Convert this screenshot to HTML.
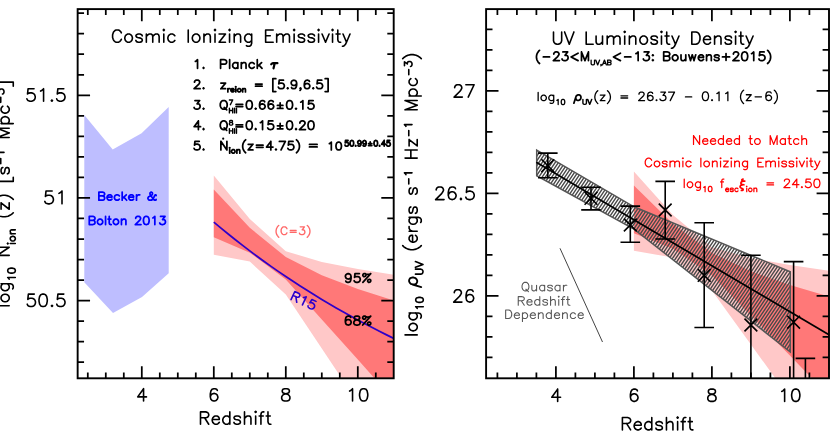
<!DOCTYPE html>
<html lang="en"><head><meta charset="utf-8"><title>Cosmic Ionizing Emissivity and UV Luminosity Density vs Redshift</title>
<style>
html,body{margin:0;padding:0;background:#fff;overflow:hidden}
body{width:830px;height:442px;font-family:"Liberation Sans",sans-serif}
svg{display:block}
.t text{font-family:"Liberation Sans",sans-serif;fill:#000;fill-opacity:0}
</style></head><body>
<svg width="830" height="442" viewBox="0 0 830 442">
<rect width="830" height="442" fill="#fff"/>
<clipPath id="cl"><rect x="77.65" y="9.1" width="316.04999999999995" height="369.2"/></clipPath>
<clipPath id="cr"><rect x="486.1" y="9.1" width="344.9" height="369.2"/></clipPath>
<polygon points="84.3,115.1 112.7,149.5 141.6,133.2 168.7,107.1 168.7,273.2 142.0,297.1 113.0,312.9 84.3,282.3" fill="#bebeff"/>
<polygon points="213.8,175.5 249.8,219.0 285.8,251.2 321.8,262.0 357.8,269.0 393.8,274.8 393.8,457.0 357.8,402.5 321.8,348.5 285.8,294.5 249.8,261.6 213.8,254.7" fill="#ffc8c8" clip-path="url(#cl)"/>
<polygon points="213.8,189.4 249.8,227.8 285.8,257.0 321.8,275.3 357.8,289.0 393.8,300.4 393.8,400.0 357.8,359.5 321.8,319.5 285.8,279.4 249.8,252.7 213.8,237.3" fill="#ff7878" clip-path="url(#cl)"/>
<polyline points="213.8,222.2 221.0,228.2 228.2,234.0 235.4,239.8 242.6,245.4 249.8,250.9 257.0,256.2 264.2,261.5 271.4,266.6 278.6,271.6 285.8,276.5 293.0,281.3 300.2,286.0 307.4,290.6 314.6,295.1 321.8,299.5 329.0,303.7 336.2,307.9 343.4,312.0 350.6,316.1 357.8,320.0 365.0,323.8 372.2,327.6 379.4,331.3 386.6,334.9 393.8,338.4" fill="none" stroke="#3000c8" stroke-width="1.75" clip-path="url(#cl)"/>
<polygon points="633.9,171.5 672.9,215.0 711.9,247.2 750.9,258.0 789.9,265.0 828.9,270.8 828.9,453.0 789.9,398.5 750.9,344.5 711.9,290.5 672.9,257.6 633.9,250.7" fill="#ffc8c8" clip-path="url(#cr)"/>
<polygon points="633.9,185.4 672.9,223.8 711.9,253.0 750.9,271.3 789.9,285.0 828.9,296.4 828.9,396.0 789.9,355.5 750.9,315.5 711.9,275.4 672.9,248.7 633.9,233.3" fill="#ff7878" clip-path="url(#cr)"/>
<clipPath id="ch"><polygon points="536.7,150.1 634.0,206.8 790.3,271.7 790.3,352.0 634.0,229.1 536.7,175.7"/></clipPath>
<path d="M285.48 360.0L433.87 140.0M288.73 360.0L437.12 140.0M291.98 360.0L440.37 140.0M295.23 360.0L443.62 140.0M298.48 360.0L446.87 140.0M301.73 360.0L450.12 140.0M304.98 360.0L453.37 140.0M308.23 360.0L456.62 140.0M311.48 360.0L459.87 140.0M314.73 360.0L463.12 140.0M317.98 360.0L466.37 140.0M321.23 360.0L469.62 140.0M324.48 360.0L472.87 140.0M327.73 360.0L476.12 140.0M330.98 360.0L479.37 140.0M334.23 360.0L482.62 140.0M337.48 360.0L485.87 140.0M340.73 360.0L489.12 140.0M343.98 360.0L492.37 140.0M347.23 360.0L495.62 140.0M350.48 360.0L498.87 140.0M353.73 360.0L502.12 140.0M356.98 360.0L505.37 140.0M360.23 360.0L508.62 140.0M363.48 360.0L511.87 140.0M366.73 360.0L515.12 140.0M369.98 360.0L518.37 140.0M373.23 360.0L521.62 140.0M376.48 360.0L524.87 140.0M379.73 360.0L528.12 140.0M382.98 360.0L531.37 140.0M386.23 360.0L534.62 140.0M389.48 360.0L537.87 140.0M392.73 360.0L541.12 140.0M395.98 360.0L544.37 140.0M399.23 360.0L547.62 140.0M402.48 360.0L550.87 140.0M405.73 360.0L554.12 140.0M408.98 360.0L557.37 140.0M412.23 360.0L560.62 140.0M415.48 360.0L563.87 140.0M418.73 360.0L567.12 140.0M421.98 360.0L570.37 140.0M425.23 360.0L573.62 140.0M428.48 360.0L576.87 140.0M431.73 360.0L580.12 140.0M434.98 360.0L583.37 140.0M438.23 360.0L586.62 140.0M441.48 360.0L589.87 140.0M444.73 360.0L593.12 140.0M447.98 360.0L596.37 140.0M451.23 360.0L599.62 140.0M454.48 360.0L602.87 140.0M457.73 360.0L606.12 140.0M460.98 360.0L609.37 140.0M464.23 360.0L612.62 140.0M467.48 360.0L615.87 140.0M470.73 360.0L619.12 140.0M473.98 360.0L622.37 140.0M477.23 360.0L625.62 140.0M480.48 360.0L628.87 140.0M483.73 360.0L632.12 140.0M486.98 360.0L635.37 140.0M490.23 360.0L638.62 140.0M493.48 360.0L641.87 140.0M496.73 360.0L645.12 140.0M499.98 360.0L648.37 140.0M503.23 360.0L651.62 140.0M506.48 360.0L654.87 140.0M509.73 360.0L658.12 140.0M512.98 360.0L661.37 140.0M516.23 360.0L664.62 140.0M519.48 360.0L667.87 140.0M522.73 360.0L671.12 140.0M525.98 360.0L674.37 140.0M529.23 360.0L677.62 140.0M532.48 360.0L680.87 140.0M535.73 360.0L684.12 140.0M538.98 360.0L687.37 140.0M542.23 360.0L690.62 140.0M545.48 360.0L693.87 140.0M548.73 360.0L697.12 140.0M551.98 360.0L700.37 140.0M555.23 360.0L703.62 140.0M558.48 360.0L706.87 140.0M561.73 360.0L710.12 140.0M564.98 360.0L713.37 140.0M568.23 360.0L716.62 140.0M571.48 360.0L719.87 140.0M574.73 360.0L723.12 140.0M577.98 360.0L726.37 140.0M581.23 360.0L729.62 140.0M584.48 360.0L732.87 140.0M587.73 360.0L736.12 140.0M590.98 360.0L739.37 140.0M594.23 360.0L742.62 140.0M597.48 360.0L745.87 140.0M600.73 360.0L749.12 140.0M603.98 360.0L752.37 140.0M607.23 360.0L755.62 140.0M610.48 360.0L758.87 140.0M613.73 360.0L762.12 140.0M616.98 360.0L765.37 140.0M620.23 360.0L768.62 140.0M623.48 360.0L771.87 140.0M626.73 360.0L775.12 140.0M629.98 360.0L778.37 140.0M633.23 360.0L781.62 140.0M636.48 360.0L784.87 140.0M639.73 360.0L788.12 140.0M642.98 360.0L791.37 140.0M646.23 360.0L794.62 140.0M649.48 360.0L797.87 140.0M652.73 360.0L801.12 140.0M655.98 360.0L804.37 140.0M659.23 360.0L807.62 140.0M662.48 360.0L810.87 140.0M665.73 360.0L814.12 140.0M668.98 360.0L817.37 140.0M672.23 360.0L820.62 140.0M675.48 360.0L823.87 140.0M678.73 360.0L827.12 140.0M681.98 360.0L830.37 140.0M685.23 360.0L833.62 140.0M688.48 360.0L836.87 140.0M691.73 360.0L840.12 140.0M694.98 360.0L843.37 140.0M698.23 360.0L846.62 140.0M701.48 360.0L849.87 140.0M704.73 360.0L853.12 140.0M707.98 360.0L856.37 140.0M711.23 360.0L859.62 140.0M714.48 360.0L862.87 140.0M717.73 360.0L866.12 140.0M720.98 360.0L869.37 140.0M724.23 360.0L872.62 140.0M727.48 360.0L875.87 140.0M730.73 360.0L879.12 140.0M733.98 360.0L882.37 140.0M737.23 360.0L885.62 140.0M740.48 360.0L888.87 140.0M743.73 360.0L892.12 140.0M746.98 360.0L895.37 140.0M750.23 360.0L898.62 140.0M753.48 360.0L901.87 140.0M756.73 360.0L905.12 140.0M759.98 360.0L908.37 140.0M763.23 360.0L911.62 140.0M766.48 360.0L914.87 140.0M769.73 360.0L918.12 140.0M772.98 360.0L921.37 140.0M776.23 360.0L924.62 140.0M779.48 360.0L927.87 140.0M782.73 360.0L931.12 140.0M785.98 360.0L934.37 140.0M789.23 360.0L937.62 140.0M792.48 360.0L940.87 140.0" stroke="#4a4a4a" stroke-width="1.4" fill="none" clip-path="url(#ch)"/>
<polygon points="536.7,150.1 634.0,206.8 790.3,271.7 790.3,352.0 634.0,229.1 536.7,175.7" fill="none" stroke="#555" stroke-width="1.5" stroke-linejoin="miter"/>
<line x1="536.3" y1="162.3" x2="829" y2="334.8" stroke="#000" stroke-width="1.7"/>
<line x1="560" y1="248.3" x2="602.5" y2="342" stroke="#444" stroke-width="1.0"/>
<path d="M547.8 153.1L547.8 177.7M538.0 153.1L557.6 153.1M538.0 177.7L557.6 177.7M541.4 159.3L554.2 172.1M541.4 172.1L554.2 159.3M591.0 187.3L591.0 209.9M581.2 187.3L600.8 187.3M581.2 209.9L600.8 209.9M584.6 191.9L597.4 204.7M584.6 204.7L597.4 191.9M630.3 206.1L630.3 242.3M620.5 206.1L640.1 206.1M620.5 242.3L640.1 242.3M623.9 218.6L636.7 231.4M623.9 231.4L636.7 218.6M665.2 181.4L665.2 239.0M655.4 181.4L675.0 181.4M655.4 239.0L675.0 239.0M658.8 203.6L671.6 216.4M658.8 216.4L671.6 203.6M704.2 222.7L704.2 327.5M694.4 222.7L714.0 222.7M694.4 327.5L714.0 327.5M697.8 269.0L710.6 281.8M697.8 281.8L710.6 269.0M750.9 255.3L750.9 378.3M741.1 255.3L760.7 255.3M744.5 318.6L757.3 331.4M744.5 331.4L757.3 318.6M793.6 261.6L793.6 378.3M783.8 261.6L803.4 261.6M787.2 315.8L800.0 328.6M787.2 328.6L800.0 315.8M805.4 358.4L805.4 378.3M795.6 358.4L815.2 358.4" stroke="#000" stroke-width="1.6" fill="none" clip-path="url(#cr)"/>
<path d="M87.80 378.30v-5.9M87.80 9.10v5.9M105.80 378.30v-5.9M105.80 9.10v5.9M123.80 378.30v-5.9M123.80 9.10v5.9M141.80 378.30v-12.1M141.80 9.10v12.1M159.80 378.30v-5.9M159.80 9.10v5.9M177.80 378.30v-5.9M177.80 9.10v5.9M195.80 378.30v-5.9M195.80 9.10v5.9M213.80 378.30v-12.1M213.80 9.10v12.1M231.80 378.30v-5.9M231.80 9.10v5.9M249.80 378.30v-5.9M249.80 9.10v5.9M267.80 378.30v-5.9M267.80 9.10v5.9M285.80 378.30v-12.1M285.80 9.10v12.1M303.80 378.30v-5.9M303.80 9.10v5.9M321.80 378.30v-5.9M321.80 9.10v5.9M339.80 378.30v-5.9M339.80 9.10v5.9M357.80 378.30v-12.1M357.80 9.10v12.1M375.80 378.30v-5.9M375.80 9.10v5.9M77.65 362.19h6.4M393.70 362.19h-6.4M77.65 341.66h6.4M393.70 341.66h-6.4M77.65 321.13h6.4M393.70 321.13h-6.4M77.65 300.60h12.4M393.70 300.60h-12.4M77.65 280.07h6.4M393.70 280.07h-6.4M77.65 259.54h6.4M393.70 259.54h-6.4M77.65 239.01h6.4M393.70 239.01h-6.4M77.65 218.48h6.4M393.70 218.48h-6.4M77.65 197.95h12.4M393.70 197.95h-12.4M77.65 177.42h6.4M393.70 177.42h-6.4M77.65 156.89h6.4M393.70 156.89h-6.4M77.65 136.36h6.4M393.70 136.36h-6.4M77.65 115.83h6.4M393.70 115.83h-6.4M77.65 95.30h12.4M393.70 95.30h-12.4M77.65 74.77h6.4M393.70 74.77h-6.4M77.65 54.24h6.4M393.70 54.24h-6.4M77.65 33.71h6.4M393.70 33.71h-6.4M77.65 13.18h6.4M393.70 13.18h-6.4" stroke="#000" stroke-width="1.75" fill="none"/>
<rect x="77.65" y="9.1" width="316.04999999999995" height="369.2" fill="none" stroke="#000" stroke-width="1.9"/>
<path d="M497.40 378.30v-5.9M497.40 9.10v5.9M516.90 378.30v-5.9M516.90 9.10v5.9M536.40 378.30v-5.9M536.40 9.10v5.9M555.90 378.30v-12.1M555.90 9.10v12.1M575.40 378.30v-5.9M575.40 9.10v5.9M594.90 378.30v-5.9M594.90 9.10v5.9M614.40 378.30v-5.9M614.40 9.10v5.9M633.90 378.30v-12.1M633.90 9.10v12.1M653.40 378.30v-5.9M653.40 9.10v5.9M672.90 378.30v-5.9M672.90 9.10v5.9M692.40 378.30v-5.9M692.40 9.10v5.9M711.90 378.30v-12.1M711.90 9.10v12.1M731.40 378.30v-5.9M731.40 9.10v5.9M750.90 378.30v-5.9M750.90 9.10v5.9M770.40 378.30v-5.9M770.40 9.10v5.9M789.90 378.30v-12.1M789.90 9.10v12.1M809.40 378.30v-5.9M809.40 9.10v5.9M486.10 357.30h6.4M829.00 357.30h-6.4M486.10 336.80h6.4M829.00 336.80h-6.4M486.10 316.30h6.4M829.00 316.30h-6.4M486.10 295.80h12.4M829.00 295.80h-12.4M486.10 275.30h6.4M829.00 275.30h-6.4M486.10 254.80h6.4M829.00 254.80h-6.4M486.10 234.30h6.4M829.00 234.30h-6.4M486.10 213.80h6.4M829.00 213.80h-6.4M486.10 193.30h12.4M829.00 193.30h-12.4M486.10 172.80h6.4M829.00 172.80h-6.4M486.10 152.30h6.4M829.00 152.30h-6.4M486.10 131.80h6.4M829.00 131.80h-6.4M486.10 111.30h6.4M829.00 111.30h-6.4M486.10 90.80h12.4M829.00 90.80h-12.4M486.10 70.30h6.4M829.00 70.30h-6.4M486.10 49.80h6.4M829.00 49.80h-6.4M486.10 29.30h6.4M829.00 29.30h-6.4" stroke="#000" stroke-width="1.75" fill="none"/>
<rect x="486.1" y="9.1" width="342.9" height="369.2" fill="none" stroke="#000" stroke-width="1.9"/>
<path d="M121.33 32.89L120.75 31.73L119.58 30.56L118.42 29.98L116.09 29.98L114.93 30.56L113.76 31.73L113.18 32.89L112.60 34.64L112.60 37.55L113.18 39.29L113.76 40.45L114.93 41.62L116.09 42.20L118.42 42.20L119.58 41.62L120.75 40.45L121.33 39.29M127.73 34.05L126.56 34.64L125.40 35.80L124.82 37.55L124.82 38.71L125.40 40.45L126.56 41.62L127.73 42.20L129.47 42.20L130.64 41.62L131.80 40.45L132.38 38.71L132.38 37.55L131.80 35.80L130.64 34.64L129.47 34.05L127.73 34.05M142.28 35.80L141.69 34.64L139.95 34.05L138.20 34.05L136.46 34.64L135.87 35.80L136.46 36.96L137.62 37.55L140.53 38.13L141.69 38.71L142.28 39.87L142.28 40.45L141.69 41.62L139.95 42.20L138.20 42.20L136.46 41.62L135.87 40.45M146.35 34.05L146.35 42.20M146.35 36.38L148.09 34.64L149.26 34.05L151.00 34.05L152.17 34.64L152.75 36.38L152.75 42.20M152.75 36.38L154.49 34.64L155.66 34.05L157.40 34.05L158.57 34.64L159.15 36.38L159.15 42.20M163.22 29.98L163.80 30.56L164.39 29.98L163.80 29.40L163.22 29.98M163.80 34.05L163.80 42.20M174.86 35.80L173.70 34.64L172.53 34.05L170.79 34.05L169.62 34.64L168.46 35.80L167.88 37.55L167.88 38.71L168.46 40.45L169.62 41.62L170.79 42.20L172.53 42.20L173.70 41.62L174.86 40.45M188.24 29.98L188.24 42.20M195.22 34.05L194.06 34.64L192.90 35.80L192.32 37.55L192.32 38.71L192.90 40.45L194.06 41.62L195.22 42.20L196.97 42.20L198.13 41.62L199.30 40.45L199.88 38.71L199.88 37.55L199.30 35.80L198.13 34.64L196.97 34.05L195.22 34.05M203.95 34.05L203.95 42.20M203.95 36.38L205.70 34.64L206.86 34.05L208.61 34.05L209.77 34.64L210.35 36.38L210.35 42.20M214.43 29.98L215.01 30.56L215.59 29.98L215.01 29.40L214.43 29.98M215.01 34.05L215.01 42.20M225.48 34.05L219.08 42.20M219.08 34.05L225.48 34.05M219.08 42.20L225.48 42.20M228.97 29.98L229.55 30.56L230.14 29.98L229.55 29.40L228.97 29.98M229.55 34.05L229.55 42.20M234.21 34.05L234.21 42.20M234.21 36.38L235.95 34.64L237.12 34.05L238.86 34.05L240.03 34.64L240.61 36.38L240.61 42.20M251.67 34.05L251.67 43.36L251.08 45.11L250.50 45.69L249.34 46.27L247.59 46.27L246.43 45.69M251.67 35.80L250.50 34.64L249.34 34.05L247.59 34.05L246.43 34.64L245.26 35.80L244.68 37.55L244.68 38.71L245.26 40.45L246.43 41.62L247.59 42.20L249.34 42.20L250.50 41.62L251.67 40.45M265.63 29.98L265.63 42.20M265.63 29.98L273.19 29.98M265.63 35.80L270.28 35.80M265.63 42.20L273.19 42.20M276.69 34.05L276.69 42.20M276.69 36.38L278.43 34.64L279.59 34.05L281.34 34.05L282.50 34.64L283.09 36.38L283.09 42.20M283.09 36.38L284.83 34.64L286.00 34.05L287.74 34.05L288.90 34.64L289.49 36.38L289.49 42.20M293.56 29.98L294.14 30.56L294.72 29.98L294.14 29.40L293.56 29.98M294.14 34.05L294.14 42.20M304.61 35.80L304.03 34.64L302.29 34.05L300.54 34.05L298.80 34.64L298.21 35.80L298.80 36.96L299.96 37.55L302.87 38.13L304.03 38.71L304.61 39.87L304.61 40.45L304.03 41.62L302.29 42.20L300.54 42.20L298.80 41.62L298.21 40.45M314.51 35.80L313.92 34.64L312.18 34.05L310.43 34.05L308.69 34.64L308.11 35.80L308.69 36.96L309.85 37.55L312.76 38.13L313.92 38.71L314.51 39.87L314.51 40.45L313.92 41.62L312.18 42.20L310.43 42.20L308.69 41.62L308.11 40.45M318.00 29.98L318.58 30.56L319.16 29.98L318.58 29.40L318.00 29.98M318.58 34.05L318.58 42.20M322.07 34.05L325.56 42.20M329.05 34.05L325.56 42.20M331.96 29.98L332.54 30.56L333.13 29.98L332.54 29.40L331.96 29.98M332.54 34.05L332.54 42.20M337.78 29.98L337.78 39.87L338.36 41.62L339.53 42.20L340.69 42.20M336.04 34.05L340.11 34.05M343.02 34.05L346.51 42.20M350.00 34.05L346.51 42.20L345.35 44.53L344.18 45.69L343.02 46.27L342.44 46.27" fill="none" stroke="#000" stroke-width="1.6" stroke-linecap="round" stroke-linejoin="round"/>
<path d="M195.38 61.38L196.24 60.97L197.53 59.75L197.53 68.33M203.55 67.51L203.12 67.92L203.55 68.33L203.98 67.92L203.55 67.51" fill="none" stroke="#000" stroke-width="1.75" stroke-linecap="round" stroke-linejoin="round"/>
<path d="M194.52 82.19L194.52 81.78L194.95 80.96L195.38 80.55L196.24 80.15L197.96 80.15L198.82 80.55L199.25 80.96L199.68 81.78L199.68 82.60L199.25 83.41L198.39 84.64L194.09 88.72L200.11 88.72M203.55 87.91L203.12 88.32L203.55 88.72L203.98 88.32L203.55 87.91" fill="none" stroke="#000" stroke-width="1.75" stroke-linecap="round" stroke-linejoin="round"/>
<path d="M194.95 100.55L199.68 100.55L197.10 103.81L198.39 103.81L199.25 104.22L199.68 104.63L200.11 105.86L200.11 106.67L199.68 107.90L198.82 108.72L197.53 109.12L196.24 109.12L194.95 108.72L194.52 108.31L194.09 107.49M203.55 108.31L203.12 108.72L203.55 109.12L203.98 108.72L203.55 108.31" fill="none" stroke="#000" stroke-width="1.75" stroke-linecap="round" stroke-linejoin="round"/>
<path d="M198.39 120.95L194.09 126.67L200.54 126.67M198.39 120.95L198.39 129.53M203.55 128.71L203.12 129.12L203.55 129.53L203.98 129.12L203.55 128.71" fill="none" stroke="#000" stroke-width="1.75" stroke-linecap="round" stroke-linejoin="round"/>
<path d="M199.25 141.35L194.95 141.35L194.52 145.02L194.95 144.61L196.24 144.21L197.53 144.21L198.82 144.61L199.68 145.43L200.11 146.66L200.11 147.47L199.68 148.70L198.82 149.52L197.53 149.93L196.24 149.93L194.95 149.52L194.52 149.11L194.09 148.29M203.55 149.11L203.12 149.52L203.55 149.93L203.98 149.52L203.55 149.11" fill="none" stroke="#000" stroke-width="1.75" stroke-linecap="round" stroke-linejoin="round"/>
<path d="M220.57 59.71L220.57 68.33M220.57 59.71L224.46 59.71L225.75 60.12L226.19 60.53L226.62 61.35L226.62 62.58L226.19 63.40L225.75 63.81L224.46 64.22L220.57 64.22M229.64 59.71L229.64 68.33M237.84 62.58L237.84 68.33M237.84 63.81L236.98 62.99L236.11 62.58L234.82 62.58L233.96 62.99L233.09 63.81L232.66 65.04L232.66 65.86L233.09 67.09L233.96 67.91L234.82 68.33L236.11 68.33L236.98 67.91L237.84 67.09M241.29 62.58L241.29 68.33M241.29 64.22L242.59 62.99L243.45 62.58L244.75 62.58L245.61 62.99L246.04 64.22L246.04 68.33M254.24 63.81L253.38 62.99L252.52 62.58L251.22 62.58L250.36 62.99L249.50 63.81L249.06 65.04L249.06 65.86L249.50 67.09L250.36 67.91L251.22 68.33L252.52 68.33L253.38 67.91L254.24 67.09M257.27 59.71L257.27 68.33M261.58 62.58L257.27 66.68M258.99 65.04L262.01 68.33" fill="none" stroke="#000" stroke-width="1.75" stroke-linecap="round" stroke-linejoin="round"/>
<path d="M274.71 63.16L273.54 68.33M271.21 64.27L271.99 63.53L273.15 63.16L277.43 63.16" fill="none" stroke="#000" stroke-width="2.2" stroke-linecap="round" stroke-linejoin="round"/>
<path d="M225.55 83.07L220.88 88.72M220.88 83.07L225.55 83.07M220.88 88.72L225.55 88.72M227.85 88.56L227.85 91.96M227.85 90.02L228.10 89.29L228.61 88.81L229.12 88.56L229.89 88.56M230.91 90.02L233.97 90.02L233.97 89.53L233.72 89.05L233.46 88.81L232.95 88.56L232.19 88.56L231.68 88.81L231.17 89.29L230.91 90.02L230.91 90.50L231.17 91.23L231.68 91.71L232.19 91.96L232.95 91.96L233.46 91.71L233.97 91.23M235.50 86.87L235.76 87.11L236.01 86.87L235.76 86.62L235.50 86.87M235.76 88.56L235.76 91.96M238.82 88.56L238.31 88.81L237.80 89.29L237.55 90.02L237.55 90.50L237.80 91.23L238.31 91.71L238.82 91.96L239.59 91.96L240.10 91.71L240.61 91.23L240.86 90.50L240.86 90.02L240.61 89.29L240.10 88.81L239.59 88.56L238.82 88.56M242.65 88.56L242.65 91.96M242.65 89.53L243.41 88.81L243.92 88.56L244.69 88.56L245.20 88.81L245.45 89.53L245.45 91.96M255.52 84.05L262.10 84.05M255.52 86.13L262.10 86.13M272.84 78.63L272.84 91.55M272.84 78.63L275.82 78.63M272.84 91.55L275.82 91.55M283.47 80.24L279.22 80.24L278.80 83.88L279.22 83.47L280.50 83.07L281.77 83.07L283.05 83.47L283.90 84.28L284.32 85.49L284.32 86.30L283.90 87.51L283.05 88.32L281.77 88.72L280.50 88.72L279.22 88.32L278.80 87.92L278.37 87.11M287.73 87.92L287.30 88.32L287.73 88.72L288.15 88.32L287.73 87.92M296.66 83.07L296.23 84.28L295.38 85.09L294.10 85.49L293.68 85.49L292.40 85.09L291.55 84.28L291.13 83.07L291.13 82.67L291.55 81.45L292.40 80.65L293.68 80.24L294.10 80.24L295.38 80.65L296.23 81.45L296.66 83.07L296.66 85.09L296.23 87.11L295.38 88.32L294.10 88.72L293.25 88.72L291.98 88.32L291.55 87.51M300.91 88.32L300.48 88.72L300.06 88.32L300.48 87.92L300.91 88.32L300.91 89.13L300.48 89.94L300.06 90.34M309.41 81.45L308.99 80.65L307.71 80.24L306.86 80.24L305.59 80.65L304.74 81.86L304.31 83.88L304.31 85.90L304.74 87.51L305.59 88.32L306.86 88.72L307.29 88.72L308.56 88.32L309.41 87.51L309.84 86.30L309.84 85.90L309.41 84.69L308.56 83.88L307.29 83.47L306.86 83.47L305.59 83.88L304.74 84.69L304.31 85.90M313.24 87.92L312.82 88.32L313.24 88.72L313.67 88.32L313.24 87.92M321.75 80.24L317.49 80.24L317.07 83.88L317.49 83.47L318.77 83.07L320.05 83.07L321.32 83.47L322.17 84.28L322.60 85.49L322.60 86.30L322.17 87.51L321.32 88.32L320.05 88.72L318.77 88.72L317.49 88.32L317.07 87.92L316.64 87.11M328.12 78.63L328.12 91.55M325.15 78.63L328.12 78.63M325.15 91.55L328.12 91.55" fill="none" stroke="#000" stroke-width="1.75" stroke-linecap="round" stroke-linejoin="round"/>
<path d="M222.86 100.55L222.00 100.95L221.14 101.77L220.71 102.59L220.28 103.81L220.28 105.86L220.71 107.08L221.14 107.90L222.00 108.72L222.86 109.12L224.58 109.12L225.44 108.72L226.30 107.90L226.72 107.08L227.16 105.86L227.16 103.81L226.72 102.59L226.30 101.77L225.44 100.95L224.58 100.55L222.86 100.55M224.15 107.49L226.72 109.94" fill="none" stroke="#000" stroke-width="1.75" stroke-linecap="round" stroke-linejoin="round"/>
<path d="M232.71 99.98L230.35 104.70M229.40 99.98L232.71 99.98" fill="none" stroke="#000" stroke-width="1.4" stroke-linecap="round" stroke-linejoin="round"/>
<path d="M229.40 108.18L229.40 112.90M232.71 108.18L232.71 112.90M229.40 110.43L232.71 110.43M234.60 108.18L234.60 112.90M236.49 108.18L236.49 112.90" fill="none" stroke="#000" stroke-width="1.4" stroke-linecap="round" stroke-linejoin="round"/>
<path d="M236.07 104.41L242.71 104.41M236.07 106.51L242.71 106.51M248.83 100.57L247.54 100.98L246.69 102.20L246.26 104.24L246.26 105.46L246.69 107.50L247.54 108.72L248.83 109.12L249.69 109.12L250.98 108.72L251.83 107.50L252.26 105.46L252.26 104.24L251.83 102.20L250.98 100.98L249.69 100.57L248.83 100.57M255.69 108.31L255.26 108.72L255.69 109.12L256.12 108.72L255.69 108.31M264.70 101.79L264.27 100.98L262.98 100.57L262.13 100.57L260.84 100.98L259.98 102.20L259.55 104.24L259.55 106.27L259.98 107.90L260.84 108.72L262.13 109.12L262.56 109.12L263.84 108.72L264.70 107.90L265.13 106.68L265.13 106.27L264.70 105.05L263.84 104.24L262.56 103.83L262.13 103.83L260.84 104.24L259.98 105.05L259.55 106.27M273.28 101.79L272.85 100.98L271.56 100.57L270.71 100.57L269.42 100.98L268.56 102.20L268.13 104.24L268.13 106.27L268.56 107.90L269.42 108.72L270.71 109.12L271.13 109.12L272.42 108.72L273.28 107.90L273.71 106.68L273.71 106.27L273.28 105.05L272.42 104.24L271.13 103.83L270.71 103.83L269.42 104.24L268.56 105.05L268.13 106.27M280.14 102.85L280.14 108.39M277.40 105.46L282.89 105.46M277.40 108.39L282.89 108.39M289.15 100.57L287.86 100.98L287.00 102.20L286.57 104.24L286.57 105.46L287.00 107.50L287.86 108.72L289.15 109.12L290.01 109.12L291.29 108.72L292.15 107.50L292.58 105.46L292.58 104.24L292.15 102.20L291.29 100.98L290.01 100.57L289.15 100.57M296.01 108.31L295.58 108.72L296.01 109.12L296.44 108.72L296.01 108.31M300.73 102.20L301.59 101.79L302.87 100.57L302.87 109.12M313.17 100.57L308.88 100.57L308.45 104.24L308.88 103.83L310.16 103.42L311.45 103.42L312.74 103.83L313.60 104.64L314.02 105.87L314.02 106.68L313.60 107.90L312.74 108.72L311.45 109.12L310.16 109.12L308.88 108.72L308.45 108.31L308.02 107.50" fill="none" stroke="#000" stroke-width="1.75" stroke-linecap="round" stroke-linejoin="round"/>
<path d="M222.86 120.95L222.00 121.36L221.14 122.17L220.71 122.99L220.28 124.21L220.28 126.26L220.71 127.48L221.14 128.30L222.00 129.12L222.86 129.53L224.58 129.53L225.44 129.12L226.30 128.30L226.72 127.48L227.16 126.26L227.16 124.21L226.72 122.99L226.30 122.17L225.44 121.36L224.58 120.95L222.86 120.95M224.15 127.89L226.72 130.34" fill="none" stroke="#000" stroke-width="1.75" stroke-linecap="round" stroke-linejoin="round"/>
<path d="M230.58 120.38L229.87 120.61L229.64 121.06L229.64 121.51L229.87 121.95L230.35 122.18L231.29 122.40L232.00 122.63L232.47 123.08L232.71 123.53L232.71 124.20L232.47 124.65L232.24 124.88L231.53 125.10L230.58 125.10L229.87 124.88L229.64 124.65L229.40 124.20L229.40 123.53L229.64 123.08L230.11 122.63L230.82 122.40L231.76 122.18L232.24 121.95L232.47 121.51L232.47 121.06L232.24 120.61L231.53 120.38L230.58 120.38" fill="none" stroke="#000" stroke-width="1.4" stroke-linecap="round" stroke-linejoin="round"/>
<path d="M229.40 128.58L229.40 133.30M232.71 128.58L232.71 133.30M229.40 130.83L232.71 130.83M234.60 128.58L234.60 133.30M236.49 128.58L236.49 133.30" fill="none" stroke="#000" stroke-width="1.4" stroke-linecap="round" stroke-linejoin="round"/>
<path d="M236.07 124.81L242.71 124.81M236.07 126.91L242.71 126.91M248.83 120.97L247.54 121.38L246.69 122.60L246.26 124.64L246.26 125.86L246.69 127.90L247.54 129.12L248.83 129.53L249.69 129.53L250.98 129.12L251.83 127.90L252.26 125.86L252.26 124.64L251.83 122.60L250.98 121.38L249.69 120.97L248.83 120.97M255.69 128.71L255.26 129.12L255.69 129.53L256.12 129.12L255.69 128.71M260.41 122.60L261.27 122.19L262.56 120.97L262.56 129.53M272.85 120.97L268.56 120.97L268.13 124.64L268.56 124.23L269.85 123.82L271.13 123.82L272.42 124.23L273.28 125.04L273.71 126.27L273.71 127.08L273.28 128.30L272.42 129.12L271.13 129.53L269.85 129.53L268.56 129.12L268.13 128.71L267.70 127.90M280.14 123.25L280.14 128.79M277.40 125.86L282.89 125.86M277.40 128.79L282.89 128.79M289.15 120.97L287.86 121.38L287.00 122.60L286.57 124.64L286.57 125.86L287.00 127.90L287.86 129.12L289.15 129.53L290.01 129.53L291.29 129.12L292.15 127.90L292.58 125.86L292.58 124.64L292.15 122.60L291.29 121.38L290.01 120.97L289.15 120.97M296.01 128.71L295.58 129.12L296.01 129.53L296.44 129.12L296.01 128.71M299.87 123.01L299.87 122.60L300.30 121.78L300.73 121.38L301.59 120.97L303.30 120.97L304.16 121.38L304.59 121.78L305.02 122.60L305.02 123.41L304.59 124.23L303.73 125.45L299.44 129.53L305.45 129.53M310.59 120.97L309.31 121.38L308.45 122.60L308.02 124.64L308.02 125.86L308.45 127.90L309.31 129.12L310.59 129.53L311.45 129.53L312.74 129.12L313.60 127.90L314.02 125.86L314.02 124.64L313.60 122.60L312.74 121.38L311.45 120.97L310.59 120.97" fill="none" stroke="#000" stroke-width="1.75" stroke-linecap="round" stroke-linejoin="round"/>
<path d="M220.88 141.35L220.88 149.93M220.88 141.35L226.90 149.93M226.90 141.35L226.90 149.93M229.41 147.87L229.68 148.13L229.95 147.87L229.68 147.62L229.41 147.87M229.68 149.65L229.68 153.19M232.88 149.65L232.35 149.90L231.81 150.41L231.55 151.17L231.55 151.67L231.81 152.43L232.35 152.94L232.88 153.19L233.68 153.19L234.21 152.94L234.75 152.43L235.01 151.67L235.01 151.17L234.75 150.41L234.21 149.90L233.68 149.65L232.88 149.65M236.88 149.65L236.88 153.19M236.88 150.66L237.68 149.90L238.21 149.65L239.01 149.65L239.55 149.90L239.81 150.66L239.81 153.19" fill="none" stroke="#000" stroke-width="1.75" stroke-linecap="round" stroke-linejoin="round"/>
<path d="M245.66 139.79L244.81 140.60L243.96 141.82L243.10 143.44L242.68 145.47L242.68 147.09L243.10 149.11L243.96 150.74L244.81 151.95L245.66 152.76M252.92 144.25L248.22 149.93M248.22 144.25L252.92 144.25M248.22 149.93L252.92 149.93M256.44 145.23L263.05 145.23M256.44 147.32L263.05 147.32M270.84 141.41L266.57 147.09L272.97 147.09M270.84 141.41L270.84 149.93M275.96 149.11L275.53 149.52L275.96 149.93L276.38 149.52L275.96 149.11M285.34 141.41L281.08 149.93M279.37 141.41L285.34 141.41M293.02 141.41L288.76 141.41L288.33 145.06L288.76 144.66L290.04 144.25L291.32 144.25L292.60 144.66L293.45 145.47L293.88 146.68L293.88 147.49L293.45 148.71L292.60 149.52L291.32 149.93L290.04 149.93L288.76 149.52L288.33 149.11L287.90 148.30M296.44 139.79L297.29 140.60L298.14 141.82L299.00 143.44L299.43 145.47L299.43 147.09L299.00 149.11L298.14 150.74L297.29 151.95L296.44 152.76" fill="none" stroke="#000" stroke-width="1.75" stroke-linecap="round" stroke-linejoin="round"/>
<path d="M309.48 144.49L317.12 144.49M309.48 146.91L317.12 146.91" fill="none" stroke="#000" stroke-width="1.75" stroke-linecap="round" stroke-linejoin="round"/>
<path d="M329.38 143.65L330.15 143.28L331.32 142.17L331.32 149.93M338.32 142.17L337.15 142.54L336.37 143.65L335.98 145.49L335.98 146.60L336.37 148.45L337.15 149.56L338.32 149.93L339.09 149.93L340.26 149.56L341.04 148.45L341.43 146.60L341.43 145.49L341.04 143.65L340.26 142.54L339.09 142.17L338.32 142.17" fill="none" stroke="#000" stroke-width="1.75" stroke-linecap="round" stroke-linejoin="round"/>
<path d="M348.05 140.49L345.51 140.49L345.25 142.89L345.51 142.63L346.27 142.36L347.04 142.36L347.80 142.63L348.31 143.16L348.56 143.96L348.56 144.50L348.31 145.30L347.80 145.83L347.04 146.10L346.27 146.10L345.51 145.83L345.25 145.57L345.00 145.03M351.62 140.49L350.85 140.76L350.34 141.56L350.09 142.89L350.09 143.70L350.34 145.03L350.85 145.83L351.62 146.10L352.13 146.10L352.89 145.83L353.40 145.03L353.65 143.70L353.65 142.89L353.40 141.56L352.89 140.76L352.13 140.49L351.62 140.49M355.69 145.57L355.43 145.83L355.69 146.10L355.94 145.83L355.69 145.57M361.03 142.36L360.78 143.16L360.27 143.70L359.51 143.96L359.25 143.96L358.49 143.70L357.98 143.16L357.72 142.36L357.72 142.09L357.98 141.29L358.49 140.76L359.25 140.49L359.51 140.49L360.27 140.76L360.78 141.29L361.03 142.36L361.03 143.70L360.78 145.03L360.27 145.83L359.51 146.10L359.00 146.10L358.23 145.83L357.98 145.30M366.12 142.36L365.87 143.16L365.36 143.70L364.60 143.96L364.34 143.96L363.58 143.70L363.07 143.16L362.81 142.36L362.81 142.09L363.07 141.29L363.58 140.76L364.34 140.49L364.60 140.49L365.36 140.76L365.87 141.29L366.12 142.36L366.12 143.70L365.87 145.03L365.36 145.83L364.60 146.10L364.09 146.10L363.32 145.83L363.07 145.30M370.19 141.98L370.19 145.62M368.57 143.70L371.82 143.70M368.57 145.62L371.82 145.62M375.54 140.49L374.78 140.76L374.27 141.56L374.01 142.89L374.01 143.70L374.27 145.03L374.78 145.83L375.54 146.10L376.05 146.10L376.81 145.83L377.32 145.03L377.58 143.70L377.58 142.89L377.32 141.56L376.81 140.76L376.05 140.49L375.54 140.49M379.61 145.57L379.36 145.83L379.61 146.10L379.87 145.83L379.61 145.57M384.19 140.49L381.65 144.23L385.46 144.23M384.19 140.49L384.19 146.10M389.79 140.49L387.25 140.49L386.99 142.89L387.25 142.63L388.01 142.36L388.77 142.36L389.54 142.63L390.05 143.16L390.30 143.96L390.30 144.50L390.05 145.30L389.54 145.83L388.77 146.10L388.01 146.10L387.25 145.83L386.99 145.57L386.74 145.03" fill="none" stroke="#000" stroke-width="1.8" stroke-linecap="round" stroke-linejoin="round"/>
<circle cx="223.2" cy="138.7" r="1.1" fill="#000"/>
<path d="M98.88 192.07L98.88 200.22M98.88 192.07L102.56 192.07L103.78 192.46L104.19 192.84L104.60 193.62L104.60 194.40L104.19 195.17L103.78 195.56L102.56 195.95M98.88 195.95L102.56 195.95L103.78 196.34L104.19 196.73L104.60 197.51L104.60 198.67L104.19 199.45L103.78 199.84L102.56 200.22L98.88 200.22M107.05 197.12L111.96 197.12L111.96 196.34L111.55 195.56L111.14 195.17L110.33 194.79L109.10 194.79L108.28 195.17L107.46 195.95L107.05 197.12L107.05 197.89L107.46 199.06L108.28 199.84L109.10 200.22L110.33 200.22L111.14 199.84L111.96 199.06M119.32 195.95L118.50 195.17L117.69 194.79L116.46 194.79L115.64 195.17L114.82 195.95L114.41 197.12L114.41 197.89L114.82 199.06L115.64 199.84L116.46 200.22L117.69 200.22L118.50 199.84L119.32 199.06M122.18 192.07L122.18 200.22M126.27 194.79L122.18 198.67M123.82 197.12L126.68 200.22M128.73 197.12L133.63 197.12L133.63 196.34L133.22 195.56L132.82 195.17L132.00 194.79L130.77 194.79L129.95 195.17L129.14 195.95L128.73 197.12L128.73 197.89L129.14 199.06L129.95 199.84L130.77 200.22L132.00 200.22L132.82 199.84L133.63 199.06M136.50 194.79L136.50 200.22M136.50 197.12L136.91 195.95L137.72 195.17L138.54 194.79L139.77 194.79M156.12 195.56L156.12 195.17L155.72 194.79L155.31 194.79L154.90 195.17L154.49 195.95L153.67 197.89L152.85 199.06L152.04 199.84L151.22 200.22L149.58 200.22L148.76 199.84L148.36 199.45L147.95 198.67L147.95 197.89L148.36 197.12L148.76 196.73L151.63 195.17L152.04 194.79L152.44 194.01L152.44 193.23L152.04 192.46L151.22 192.07L150.40 192.46L149.99 193.23L149.99 194.01L150.40 195.17L151.22 196.34L153.26 199.06L154.08 199.84L154.90 200.22L155.72 200.22L156.12 199.84L156.12 199.45" fill="none" stroke="#0000ff" stroke-width="1.75" stroke-linecap="round" stroke-linejoin="round"/>
<path d="M89.28 216.40L89.28 224.53M89.28 216.40L92.94 216.40L94.16 216.79L94.57 217.17L94.98 217.95L94.98 218.72L94.57 219.50L94.16 219.88L92.94 220.27M89.28 220.27L92.94 220.27L94.16 220.66L94.57 221.04L94.98 221.82L94.98 222.98L94.57 223.75L94.16 224.14L92.94 224.53L89.28 224.53M99.46 219.11L98.64 219.50L97.83 220.27L97.42 221.43L97.42 222.20L97.83 223.36L98.64 224.14L99.46 224.53L100.68 224.53L101.49 224.14L102.31 223.36L102.71 222.20L102.71 221.43L102.31 220.27L101.49 219.50L100.68 219.11L99.46 219.11M105.56 216.40L105.56 224.53M109.23 216.40L109.23 222.98L109.64 224.14L110.45 224.53L111.26 224.53M108.01 219.11L110.86 219.11M115.34 219.11L114.52 219.50L113.71 220.27L113.30 221.43L113.30 222.20L113.71 223.36L114.52 224.14L115.34 224.53L116.56 224.53L117.37 224.14L118.19 223.36L118.59 222.20L118.59 221.43L118.19 220.27L117.37 219.50L116.56 219.11L115.34 219.11M121.45 219.11L121.45 224.53M121.45 220.66L122.67 219.50L123.48 219.11L124.70 219.11L125.52 219.50L125.92 220.66L125.92 224.53M135.70 218.34L135.70 217.95L136.11 217.17L136.51 216.79L137.33 216.40L138.96 216.40L139.77 216.79L140.18 217.17L140.58 217.95L140.58 218.72L140.18 219.50L139.36 220.66L135.29 224.53L140.99 224.53M145.88 216.40L144.66 216.79L143.84 217.95L143.44 219.88L143.44 221.04L143.84 222.98L144.66 224.14L145.88 224.53L146.69 224.53L147.91 224.14L148.73 222.98L149.14 221.04L149.14 219.88L148.73 217.95L147.91 216.79L146.69 216.40L145.88 216.40M152.80 217.95L153.62 217.56L154.84 216.40L154.84 224.53M160.54 216.40L165.02 216.40L162.57 219.50L163.80 219.50L164.61 219.88L165.02 220.27L165.43 221.43L165.43 222.20L165.02 223.36L164.20 224.14L162.98 224.53L161.76 224.53L160.54 224.14L160.13 223.75L159.72 222.98" fill="none" stroke="#0000ff" stroke-width="1.75" stroke-linecap="round" stroke-linejoin="round"/>
<path d="M278.80 225.38L278.02 226.12L277.24 227.23L276.46 228.71L276.07 230.56L276.07 232.04L276.46 233.89L277.24 235.36L278.02 236.47L278.80 237.21M286.97 228.71L286.58 227.97L285.80 227.23L285.02 226.86L283.47 226.86L282.69 227.23L281.91 227.97L281.52 228.71L281.13 229.82L281.13 231.67L281.52 232.78L281.91 233.52L282.69 234.26L283.47 234.62L285.02 234.62L285.80 234.26L286.58 233.52L286.97 232.78M290.18 230.34L296.21 230.34M290.18 232.25L296.21 232.25M300.20 226.86L304.48 226.86L302.14 229.82L303.31 229.82L304.09 230.19L304.48 230.56L304.87 231.67L304.87 232.41L304.48 233.52L303.70 234.26L302.53 234.62L301.37 234.62L300.20 234.26L299.81 233.89L299.42 233.15M307.20 225.38L307.98 226.12L308.76 227.23L309.54 228.71L309.93 230.56L309.93 232.04L309.54 233.89L308.76 235.36L307.98 236.47L307.20 237.21" fill="none" stroke="#ff6868" stroke-width="1.35" stroke-linecap="round" stroke-linejoin="round"/>
<path d="M351.06 276.51L350.62 277.76L349.75 278.59L348.43 279.00L348.00 279.00L346.69 278.59L345.81 277.76L345.38 276.51L345.38 276.10L345.81 274.85L346.69 274.02L348.00 273.61L348.43 273.61L349.75 274.02L350.62 274.85L351.06 276.51L351.06 278.59L350.62 280.66L349.75 281.91L348.43 282.32L347.56 282.32L346.25 281.91L345.81 281.08M359.36 273.61L354.99 273.61L354.55 277.34L354.99 276.93L356.30 276.51L357.61 276.51L358.92 276.93L359.80 277.76L360.24 279.00L360.24 279.83L359.80 281.08L358.92 281.91L357.61 282.32L356.30 282.32L354.99 281.91L354.55 281.49L354.12 280.66M370.73 273.61L362.86 282.32M365.04 273.61L365.92 274.44L365.92 275.27L365.48 276.10L364.61 276.51L363.73 276.51L362.86 275.68L362.86 274.85L363.29 274.02L364.17 273.61L365.04 273.61L365.92 274.02L367.23 274.44L368.54 274.44L369.85 274.02L370.73 273.61M368.98 279.42L368.10 279.83L367.67 280.66L367.67 281.49L368.54 282.32L369.41 282.32L370.29 281.91L370.73 281.08L370.73 280.25L369.85 279.42L368.98 279.42" fill="none" stroke="#000" stroke-width="1.75" stroke-linecap="round" stroke-linejoin="round"/>
<path d="M350.71 317.42L350.27 316.57L348.93 316.15L348.04 316.15L346.71 316.57L345.82 317.84L345.38 319.95L345.38 322.07L345.82 323.76L346.71 324.60L348.04 325.02L348.49 325.02L349.82 324.60L350.71 323.76L351.16 322.49L351.16 322.07L350.71 320.80L349.82 319.95L348.49 319.53L348.04 319.53L346.71 319.95L345.82 320.80L345.38 322.07M356.05 316.15L354.71 316.57L354.27 317.42L354.27 318.26L354.71 319.11L355.60 319.53L357.38 319.95L358.72 320.38L359.61 321.22L360.05 322.07L360.05 323.33L359.61 324.18L359.16 324.60L357.83 325.02L356.05 325.02L354.71 324.60L354.27 324.18L353.82 323.33L353.82 322.07L354.27 321.22L355.16 320.38L356.49 319.95L358.27 319.53L359.16 319.11L359.61 318.26L359.61 317.42L359.16 316.57L357.83 316.15L356.05 316.15M370.73 316.15L362.72 325.02M364.94 316.15L365.83 317.00L365.83 317.84L365.39 318.69L364.50 319.11L363.61 319.11L362.72 318.26L362.72 317.42L363.16 316.57L364.05 316.15L364.94 316.15L365.83 316.57L367.17 317.00L368.50 317.00L369.84 316.57L370.73 316.15M368.95 322.07L368.06 322.49L367.61 323.33L367.61 324.18L368.50 325.02L369.39 325.02L370.28 324.60L370.73 323.76L370.73 322.91L369.84 322.07L368.95 322.07" fill="none" stroke="#000" stroke-width="1.75" stroke-linecap="round" stroke-linejoin="round"/>
<path d="M294.82 291.50L291.03 299.64M294.82 291.50L298.49 293.21L299.53 294.17L299.76 294.75L299.81 295.71L299.44 296.49L298.68 297.07L298.09 297.27L296.68 297.09L293.01 295.38M295.87 296.71L296.73 302.30M303.48 297.43L304.47 297.42L306.24 296.83L302.44 304.96M316.03 301.39L311.95 299.49L309.91 302.79L310.50 302.59L311.91 302.77L313.13 303.34L314.17 304.30L314.63 305.46L314.49 306.81L314.13 307.58L313.18 308.56L312.01 308.95L310.60 308.77L309.38 308.20L308.33 307.24L308.11 306.66L308.06 305.70" fill="none" stroke="#2a00cc" stroke-width="1.6" stroke-linecap="round" stroke-linejoin="round"/>
<path d="M34.04 88.70L28.09 88.70L27.50 94.06L28.09 93.46L29.88 92.87L31.66 92.87L33.45 93.46L34.64 94.65L35.23 96.44L35.23 97.63L34.64 99.41L33.45 100.60L31.66 101.20L29.88 101.20L28.09 100.60L27.50 100.01L26.90 98.82M40.59 91.08L41.78 90.48L43.57 88.70L43.57 101.20M51.90 100.01L51.31 100.60L51.90 101.20L52.50 100.60L51.90 100.01M63.81 88.70L57.86 88.70L57.26 94.06L57.86 93.46L59.64 92.87L61.43 92.87L63.21 93.46L64.40 94.65L65.00 96.44L65.00 97.63L64.40 99.41L63.21 100.60L61.43 101.20L59.64 101.20L57.86 100.60L57.26 100.01L56.67 98.82" fill="none" stroke="#000" stroke-width="1.6" stroke-linecap="round" stroke-linejoin="round"/>
<path d="M52.17 190.95L46.03 190.95L45.41 196.48L46.03 195.86L47.87 195.25L49.71 195.25L51.56 195.86L52.79 197.09L53.40 198.94L53.40 200.16L52.79 202.01L51.56 203.24L49.71 203.85L47.87 203.85L46.03 203.24L45.41 202.62L44.80 201.39M58.93 193.41L60.16 192.79L62.00 190.95L62.00 203.85" fill="none" stroke="#000" stroke-width="1.6" stroke-linecap="round" stroke-linejoin="round"/>
<path d="M34.29 294.10L28.38 294.10L27.79 299.41L28.38 298.82L30.15 298.23L31.92 298.23L33.70 298.82L34.88 300.00L35.47 301.77L35.47 302.96L34.88 304.73L33.70 305.91L31.92 306.50L30.15 306.50L28.38 305.91L27.79 305.32L27.20 304.14M42.56 294.10L40.78 294.69L39.60 296.46L39.01 299.41L39.01 301.18L39.60 304.14L40.78 305.91L42.56 306.50L43.74 306.50L45.51 305.91L46.69 304.14L47.28 301.18L47.28 299.41L46.69 296.46L45.51 294.69L43.74 294.10L42.56 294.10M52.01 305.32L51.42 305.91L52.01 306.50L52.60 305.91L52.01 305.32M63.82 294.10L57.91 294.10L57.32 299.41L57.91 298.82L59.68 298.23L61.46 298.23L63.23 298.82L64.41 300.00L65.00 301.77L65.00 302.96L64.41 304.73L63.23 305.91L61.46 306.50L59.68 306.50L57.91 305.91L57.32 305.32L56.73 304.14" fill="none" stroke="#000" stroke-width="1.6" stroke-linecap="round" stroke-linejoin="round"/>
<path d="M143.56 388.71L137.71 396.90L146.48 396.90M143.56 388.71L143.56 401.00" fill="none" stroke="#000" stroke-width="1.6" stroke-linecap="round" stroke-linejoin="round"/>
<path d="M217.31 390.47L216.73 389.30L214.97 388.71L213.80 388.71L212.05 389.30L210.88 391.06L210.29 393.98L210.29 396.90L210.88 399.25L212.05 400.42L213.80 401.00L214.39 401.00L216.14 400.42L217.31 399.25L217.90 397.49L217.90 396.90L217.31 395.15L216.14 393.98L214.39 393.39L213.80 393.39L212.05 393.98L210.88 395.15L210.29 396.90" fill="none" stroke="#000" stroke-width="1.6" stroke-linecap="round" stroke-linejoin="round"/>
<path d="M284.63 388.71L282.88 389.30L282.29 390.47L282.29 391.64L282.88 392.81L284.05 393.39L286.38 393.98L288.14 394.56L289.31 395.74L289.90 396.90L289.90 398.66L289.31 399.83L288.73 400.42L286.97 401.00L284.63 401.00L282.88 400.42L282.29 399.83L281.70 398.66L281.70 396.90L282.29 395.74L283.46 394.56L285.22 393.98L287.56 393.39L288.73 392.81L289.31 391.64L289.31 390.47L288.73 389.30L286.97 388.71L284.63 388.71" fill="none" stroke="#000" stroke-width="1.6" stroke-linecap="round" stroke-linejoin="round"/>
<path d="M349.61 391.06L350.78 390.47L352.54 388.71L352.54 401.00M363.06 388.71L361.31 389.30L360.14 391.06L359.56 393.98L359.56 395.74L360.14 398.66L361.31 400.42L363.06 401.00L364.24 401.00L365.99 400.42L367.16 398.66L367.75 395.74L367.75 393.98L367.16 391.06L365.99 389.30L364.24 388.71L363.06 388.71" fill="none" stroke="#000" stroke-width="1.6" stroke-linecap="round" stroke-linejoin="round"/>
<path d="M200.50 411.88L200.50 424.20M200.50 411.88L205.78 411.88L207.54 412.47L208.13 413.05L208.71 414.23L208.71 415.40L208.13 416.57L207.54 417.16L205.78 417.75L200.50 417.75M204.61 417.75L208.71 424.20M212.23 419.51L219.27 419.51L219.27 418.33L218.69 417.16L218.10 416.57L216.93 415.99L215.17 415.99L213.99 416.57L212.82 417.75L212.23 419.51L212.23 420.68L212.82 422.44L213.99 423.61L215.17 424.20L216.93 424.20L218.10 423.61L219.27 422.44M229.83 411.88L229.83 424.20M229.83 417.75L228.66 416.57L227.49 415.99L225.73 415.99L224.55 416.57L223.38 417.75L222.79 419.51L222.79 420.68L223.38 422.44L224.55 423.61L225.73 424.20L227.49 424.20L228.66 423.61L229.83 422.44M240.39 417.75L239.81 416.57L238.05 415.99L236.29 415.99L234.53 416.57L233.94 417.75L234.53 418.92L235.70 419.51L238.63 420.09L239.81 420.68L240.39 421.85L240.39 422.44L239.81 423.61L238.05 424.20L236.29 424.20L234.53 423.61L233.94 422.44M244.50 411.88L244.50 424.20M244.50 418.33L246.26 416.57L247.43 415.99L249.19 415.99L250.37 416.57L250.95 418.33L250.95 424.20M255.06 411.88L255.65 412.47L256.23 411.88L255.65 411.29L255.06 411.88M255.65 415.99L255.65 424.20M263.86 411.88L262.69 411.88L261.51 412.47L260.93 414.23L260.93 424.20M259.17 415.99L263.27 415.99M267.97 411.88L267.97 421.85L268.55 423.61L269.73 424.20L270.90 424.20M266.21 415.99L270.31 415.99" fill="none" stroke="#000" stroke-width="1.6" stroke-linecap="round" stroke-linejoin="round"/>
<path d="M-2.99 305.80L9.20 305.80M1.07 298.83L1.65 300.00L2.81 301.16L4.56 301.74L5.72 301.74L7.46 301.16L8.62 300.00L9.20 298.83L9.20 297.09L8.62 295.93L7.46 294.77L5.72 294.19L4.56 294.19L2.81 294.77L1.65 295.93L1.07 297.09L1.07 298.83M1.07 283.74L10.36 283.74L12.10 284.32L12.68 284.90L13.26 286.06L13.26 287.80L12.68 288.97M2.81 283.74L1.65 284.90L1.07 286.06L1.07 287.80L1.65 288.97L2.81 290.13L4.56 290.71L5.72 290.71L7.46 290.13L8.62 288.97L9.20 287.80L9.20 286.06L8.62 284.90L7.46 283.74M9.18 279.26L8.82 278.54L7.74 277.46L15.30 277.46M7.74 270.98L8.10 272.06L9.18 272.78L10.98 273.14L12.06 273.14L13.86 272.78L14.94 272.06L15.30 270.98L15.30 270.26L14.94 269.18L13.86 268.46L12.06 268.10L10.98 268.10L9.18 268.46L8.10 269.18L7.74 270.26L7.74 270.98M-2.99 255.41L9.20 255.41M-2.99 255.41L9.20 247.29M-2.99 247.29L9.20 247.29M7.74 243.88L8.10 243.52L7.74 243.16L7.38 243.52L7.74 243.88M10.26 243.52L15.30 243.52M10.26 239.21L10.62 239.93L11.34 240.65L12.42 241.01L13.14 241.01L14.22 240.65L14.94 239.93L15.30 239.21L15.30 238.13L14.94 237.41L14.22 236.69L13.14 236.33L12.42 236.33L11.34 236.69L10.62 237.41L10.26 238.13L10.26 239.21M10.26 233.81L15.30 233.81M11.70 233.81L10.62 232.73L10.26 232.01L10.26 230.93L10.62 230.21L11.70 229.85L15.30 229.85M-5.31 212.73L-4.15 213.90L-2.41 215.06L-0.09 216.22L2.81 216.80L5.14 216.80L8.04 216.22L10.36 215.06L12.10 213.90L13.26 212.73M1.07 202.87L9.20 209.25M1.07 209.25L1.07 202.87M9.20 209.25L9.20 202.87M-5.31 199.38L-4.15 198.22L-2.41 197.06L-0.09 195.90L2.81 195.32L5.14 195.32L8.04 195.90L10.36 197.06L12.10 198.22L13.26 199.38M-5.31 181.39L13.26 181.39M-5.31 181.39L-5.31 177.32M13.26 181.39L13.26 177.32M2.81 167.46L1.65 168.04L1.07 169.78L1.07 171.52L1.65 173.26L2.81 173.84L3.98 173.26L4.56 172.10L5.14 169.20L5.72 168.04L6.88 167.46L7.46 167.46L8.62 168.04L9.20 169.78L9.20 171.52L8.62 173.26L7.46 173.84M0.74 163.63L0.74 158.44M-2.14 154.20L-2.50 153.48L-3.58 152.40L3.98 152.40M-2.99 137.55L9.20 137.55M-2.99 137.55L9.20 132.91M-2.99 128.26L9.20 132.91M-2.99 128.26L9.20 128.26M1.07 123.62L13.26 123.62M2.81 123.62L1.65 122.46L1.07 121.30L1.07 119.55L1.65 118.39L2.81 117.23L4.56 116.65L5.72 116.65L7.46 117.23L8.62 118.39L9.20 119.55L9.20 121.30L8.62 122.46L7.46 123.62M2.81 106.20L1.65 107.36L1.07 108.52L1.07 110.27L1.65 111.43L2.81 112.59L4.56 113.17L5.72 113.17L7.46 112.59L8.62 111.43L9.20 110.27L9.20 108.52L8.62 107.36L7.46 106.20M0.74 102.37L0.74 97.19M-3.58 93.30L-3.58 89.34L-0.70 91.50L-0.70 90.42L-0.34 89.70L0.02 89.34L1.10 88.98L1.82 88.98L2.90 89.34L3.62 90.06L3.98 91.14L3.98 92.22L3.62 93.30L3.26 93.66L2.54 94.02M-5.31 82.10L13.26 82.10M-5.31 86.16L-5.31 82.10M13.26 86.16L13.26 82.10" fill="none" stroke="#000" stroke-width="1.6" stroke-linecap="round" stroke-linejoin="round"/>
<path d="M553.50 31.94L553.50 40.70L554.08 42.45L555.25 43.62L557.00 44.20L558.17 44.20L559.92 43.62L561.09 42.45L561.67 40.70L561.67 31.94M564.59 31.94L569.26 44.20M573.93 31.94L569.26 44.20M586.18 31.94L586.18 44.20M586.18 44.20L593.19 44.20M596.10 36.03L596.10 41.87L596.69 43.62L597.86 44.20L599.61 44.20L600.77 43.62L602.52 41.87M602.52 36.03L602.52 44.20M607.19 36.03L607.19 44.20M607.19 38.36L608.94 36.61L610.11 36.03L611.86 36.03L613.03 36.61L613.61 38.36L613.61 44.20M613.61 38.36L615.36 36.61L616.53 36.03L618.28 36.03L619.45 36.61L620.03 38.36L620.03 44.20M624.12 31.94L624.70 32.53L625.29 31.94L624.70 31.36L624.12 31.94M624.70 36.03L624.70 44.20M629.37 36.03L629.37 44.20M629.37 38.36L631.12 36.61L632.29 36.03L634.04 36.03L635.21 36.61L635.79 38.36L635.79 44.20M642.79 36.03L641.63 36.61L640.46 37.78L639.88 39.53L639.88 40.70L640.46 42.45L641.63 43.62L642.79 44.20L644.55 44.20L645.71 43.62L646.88 42.45L647.46 40.70L647.46 39.53L646.88 37.78L645.71 36.61L644.55 36.03L642.79 36.03M657.39 37.78L656.80 36.61L655.05 36.03L653.30 36.03L651.55 36.61L650.97 37.78L651.55 38.95L652.72 39.53L655.63 40.11L656.80 40.70L657.39 41.87L657.39 42.45L656.80 43.62L655.05 44.20L653.30 44.20L651.55 43.62L650.97 42.45M660.89 31.94L661.47 32.53L662.05 31.94L661.47 31.36L660.89 31.94M661.47 36.03L661.47 44.20M666.72 31.94L666.72 41.87L667.31 43.62L668.47 44.20L669.64 44.20M664.97 36.03L669.06 36.03M671.98 36.03L675.48 44.20M678.98 36.03L675.48 44.20L674.31 46.53L673.14 47.70L671.98 48.29L671.39 48.29M691.82 31.94L691.82 44.20M691.82 31.94L695.90 31.94L697.66 32.53L698.82 33.69L699.41 34.86L699.99 36.61L699.99 39.53L699.41 41.28L698.82 42.45L697.66 43.62L695.90 44.20L691.82 44.20M703.49 39.53L710.50 39.53L710.50 38.36L709.91 37.20L709.33 36.61L708.16 36.03L706.41 36.03L705.24 36.61L704.08 37.78L703.49 39.53L703.49 40.70L704.08 42.45L705.24 43.62L706.41 44.20L708.16 44.20L709.33 43.62L710.50 42.45M714.58 36.03L714.58 44.20M714.58 38.36L716.33 36.61L717.50 36.03L719.25 36.03L720.42 36.61L721.00 38.36L721.00 44.20M731.51 37.78L730.92 36.61L729.17 36.03L727.42 36.03L725.67 36.61L725.09 37.78L725.67 38.95L726.84 39.53L729.75 40.11L730.92 40.70L731.51 41.87L731.51 42.45L730.92 43.62L729.17 44.20L727.42 44.20L725.67 43.62L725.09 42.45M735.01 31.94L735.59 32.53L736.17 31.94L735.59 31.36L735.01 31.94M735.59 36.03L735.59 44.20M740.84 31.94L740.84 41.87L741.43 43.62L742.59 44.20L743.76 44.20M739.09 36.03L743.18 36.03M746.10 36.03L749.60 44.20M753.10 36.03L749.60 44.20L748.43 46.53L747.26 47.70L746.10 48.29L745.51 48.29" fill="none" stroke="#000" stroke-width="1.6" stroke-linecap="round" stroke-linejoin="round"/>
<path d="M539.51 50.34L538.64 51.17L537.77 52.40L536.91 54.04L536.48 56.10L536.48 57.75L536.91 59.80L537.77 61.45L538.64 62.68L539.51 63.50M543.32 56.92L549.55 56.92M553.79 54.04L553.79 53.63L554.23 52.81L554.66 52.40L555.52 51.99L557.26 51.99L558.12 52.40L558.55 52.81L558.99 53.63L558.99 54.46L558.55 55.28L557.69 56.51L553.36 60.62L559.42 60.62M562.88 51.99L567.65 51.99L565.05 55.28L566.35 55.28L567.21 55.69L567.65 56.10L568.08 57.33L568.08 58.16L567.65 59.39L566.78 60.21L565.48 60.62L564.18 60.62L562.88 60.21L562.45 59.80L562.02 58.98M578.04 53.22L571.11 56.92L578.04 60.62M581.50 51.99L581.50 60.62M581.50 51.99L584.96 60.62M588.43 51.99L584.96 60.62M588.43 51.99L588.43 60.62M620.40 53.22L613.47 56.92L620.40 60.62M624.64 56.92L630.87 56.92M635.98 53.63L636.85 53.22L638.15 51.99L638.15 60.62M644.21 51.99L648.97 51.99L646.37 55.28L647.67 55.28L648.54 55.69L648.97 56.10L649.40 57.33L649.40 58.16L648.97 59.39L648.10 60.21L646.80 60.62L645.51 60.62L644.21 60.21L643.77 59.80L643.34 58.98M652.87 54.87L652.43 55.28L652.87 55.69L653.30 55.28L652.87 54.87M652.87 59.80L652.43 60.21L652.87 60.62L653.30 60.21L652.87 59.80M663.69 51.99L663.69 60.62M663.69 51.99L667.59 51.99L668.88 52.40L669.32 52.81L669.75 53.63L669.75 54.46L669.32 55.28L668.88 55.69L667.59 56.10M663.69 56.10L667.59 56.10L668.88 56.51L669.32 56.92L669.75 57.75L669.75 58.98L669.32 59.80L668.88 60.21L667.59 60.62L663.69 60.62M674.51 54.87L673.65 55.28L672.78 56.10L672.35 57.33L672.35 58.16L672.78 59.39L673.65 60.21L674.51 60.62L675.81 60.62L676.68 60.21L677.54 59.39L677.98 58.16L677.98 57.33L677.54 56.10L676.68 55.28L675.81 54.87L674.51 54.87M681.01 54.87L681.01 58.98L681.44 60.21L682.31 60.62L683.60 60.62L684.47 60.21L685.77 58.98M685.77 54.87L685.77 60.62M688.80 54.87L690.53 60.62M692.26 54.87L690.53 60.62M692.26 54.87L694.00 60.62M695.73 54.87L694.00 60.62M698.32 57.33L703.52 57.33L703.52 56.51L703.09 55.69L702.65 55.28L701.79 54.87L700.49 54.87L699.62 55.28L698.76 56.10L698.32 57.33L698.32 58.16L698.76 59.39L699.62 60.21L700.49 60.62L701.79 60.62L702.65 60.21L703.52 59.39M706.55 54.87L706.55 60.62M706.55 56.51L707.85 55.28L708.71 54.87L710.01 54.87L710.88 55.28L711.31 56.51L711.31 60.62M719.11 56.10L718.67 55.28L717.37 54.87L716.07 54.87L714.78 55.28L714.34 56.10L714.78 56.92L715.64 57.33L717.81 57.75L718.67 58.16L719.11 58.98L719.11 59.39L718.67 60.21L717.37 60.62L716.07 60.62L714.78 60.21L714.34 59.39M726.03 53.52L726.03 60.33M722.45 56.92L729.62 56.92M733.39 54.04L733.39 53.63L733.83 52.81L734.26 52.40L735.12 51.99L736.86 51.99L737.72 52.40L738.15 52.81L738.59 53.63L738.59 54.46L738.15 55.28L737.29 56.51L732.96 60.62L739.02 60.62M744.22 51.99L742.92 52.40L742.05 53.63L741.62 55.69L741.62 56.92L742.05 58.98L742.92 60.21L744.22 60.62L745.08 60.62L746.38 60.21L747.25 58.98L747.68 56.92L747.68 55.69L747.25 53.63L746.38 52.40L745.08 51.99L744.22 51.99M751.58 53.63L752.44 53.22L753.74 51.99L753.74 60.62M764.13 51.99L759.80 51.99L759.37 55.69L759.80 55.28L761.10 54.87L762.40 54.87L763.70 55.28L764.56 56.10L765.00 57.33L765.00 58.16L764.56 59.39L763.70 60.21L762.40 60.62L761.10 60.62L759.80 60.21L759.37 59.80L758.94 58.98M767.59 50.34L768.46 51.17L769.33 52.40L770.19 54.04L770.62 56.10L770.62 57.75L770.19 59.80L769.33 61.45L768.46 62.68L767.59 63.50" fill="none" stroke="#000" stroke-width="1.75" stroke-linecap="round" stroke-linejoin="round"/>
<path d="M591.13 60.11L591.13 63.56L591.37 64.25L591.86 64.71L592.58 64.94L593.07 64.94L593.80 64.71L594.28 64.25L594.52 63.56L594.52 60.11M595.74 60.11L597.68 64.94M599.61 60.11L597.68 64.94M601.31 64.71L601.07 64.94L600.83 64.71L601.07 64.48L601.31 64.71L601.31 65.17L601.07 65.63L600.83 65.86M604.46 60.11L602.52 64.94M604.46 60.11L606.40 64.94M603.25 63.33L605.68 63.33M607.62 60.11L607.62 64.94M607.62 60.11L609.80 60.11L610.52 60.34L610.77 60.57L611.01 61.03L611.01 61.49L610.77 61.95L610.52 62.18L609.80 62.41M607.62 62.41L609.80 62.41L610.52 62.64L610.77 62.87L611.01 63.33L611.01 64.02L610.77 64.48L610.52 64.71L609.80 64.94L607.62 64.94" fill="none" stroke="#000" stroke-width="1.3" stroke-linecap="round" stroke-linejoin="round"/>
<path d="M538.15 92.47L538.15 100.65M543.07 95.20L542.25 95.59L541.43 96.37L541.02 97.53L541.02 98.31L541.43 99.48L542.25 100.26L543.07 100.65L544.30 100.65L545.12 100.26L545.94 99.48L546.35 98.31L546.35 97.53L545.94 96.37L545.12 95.59L544.30 95.20L543.07 95.20M553.73 95.20L553.73 101.43L553.32 102.60L552.91 102.99L552.09 103.38L550.86 103.38L550.04 102.99M553.73 96.37L552.91 95.59L552.09 95.20L550.86 95.20L550.04 95.59L549.22 96.37L548.81 97.53L548.81 98.31L549.22 99.48L550.04 100.26L550.86 100.65L552.09 100.65L552.91 100.26L553.73 99.48M556.90 100.44L557.40 100.20L558.17 99.47L558.17 104.54M562.74 99.47L561.98 99.72L561.47 100.44L561.22 101.65L561.22 102.37L561.47 103.58L561.98 104.30L562.74 104.54L563.25 104.54L564.01 104.30L564.52 103.58L564.78 102.37L564.78 101.65L564.52 100.44L564.01 99.72L563.25 99.47L562.74 99.47" fill="none" stroke="#000" stroke-width="1.3" stroke-linecap="round" stroke-linejoin="round"/>
<path d="M575.76 97.23L575.76 98.43L576.23 99.63L576.70 100.03L577.64 100.42L578.58 100.42L579.52 100.03L580.46 99.23L580.93 98.03L580.93 96.83L580.46 95.64L579.99 95.24L579.05 94.84L578.11 94.84L577.17 95.24L576.23 96.04L575.76 97.23L573.88 103.22" fill="none" stroke="#000" stroke-width="1.75" stroke-linecap="round" stroke-linejoin="round"/>
<path d="M582.90 99.37L582.90 102.96L583.15 103.68L583.66 104.16L584.41 104.40L584.92 104.40L585.68 104.16L586.18 103.68L586.43 102.96L586.43 99.37M587.69 99.37L589.71 104.40M591.73 99.37L589.71 104.40" fill="none" stroke="#000" stroke-width="1.4" stroke-linecap="round" stroke-linejoin="round"/>
<path d="M597.79 90.67L596.95 91.47L596.11 92.67L595.27 94.27L594.85 96.26L594.85 97.86L595.27 99.85L596.11 101.45L596.95 102.64L597.79 103.44M604.93 95.06L600.31 100.65M600.31 95.06L604.93 95.06M600.31 100.65L604.93 100.65M607.45 90.67L608.29 91.47L609.13 92.67L609.97 94.27L610.39 96.26L610.39 97.86L609.97 99.85L609.13 101.45L608.29 102.64L607.45 103.44" fill="none" stroke="#000" stroke-width="1.3" stroke-linecap="round" stroke-linejoin="round"/>
<path d="M620.95 95.86L627.68 95.86M620.95 98.00L627.68 98.00" fill="none" stroke="#000" stroke-width="1.3" stroke-linecap="round" stroke-linejoin="round"/>
<path d="M638.98 94.14L638.98 93.74L639.41 92.92L639.83 92.52L640.69 92.11L642.40 92.11L643.26 92.52L643.69 92.92L644.11 93.74L644.11 94.55L643.69 95.36L642.83 96.58L638.55 100.65L644.54 100.65M652.67 93.33L652.25 92.52L650.96 92.11L650.11 92.11L648.82 92.52L647.97 93.74L647.54 95.77L647.54 97.80L647.97 99.43L648.82 100.24L650.11 100.65L650.53 100.65L651.82 100.24L652.67 99.43L653.10 98.21L653.10 97.80L652.67 96.58L651.82 95.77L650.53 95.36L650.11 95.36L648.82 95.77L647.97 96.58L647.54 97.80M656.53 99.84L656.10 100.24L656.53 100.65L656.95 100.24L656.53 99.84M660.81 92.11L665.51 92.11L662.95 95.36L664.23 95.36L665.09 95.77L665.51 96.18L665.94 97.40L665.94 98.21L665.51 99.43L664.66 100.24L663.37 100.65L662.09 100.65L660.81 100.24L660.38 99.84L659.95 99.02M674.50 92.11L670.22 100.65M668.51 92.11L674.50 92.11" fill="none" stroke="#000" stroke-width="1.3" stroke-linecap="round" stroke-linejoin="round"/>
<path d="M685.45 96.93L691.71 96.93" fill="none" stroke="#000" stroke-width="1.3" stroke-linecap="round" stroke-linejoin="round"/>
<path d="M704.99 91.87L703.67 92.29L702.79 93.54L702.35 95.63L702.35 96.89L702.79 98.98L703.67 100.23L704.99 100.65L705.87 100.65L707.19 100.23L708.07 98.98L708.51 96.89L708.51 95.63L708.07 93.54L707.19 92.29L705.87 91.87L704.99 91.87M712.03 99.81L711.59 100.23L712.03 100.65L712.47 100.23L712.03 99.81M716.87 93.54L717.75 93.13L719.07 91.87L719.07 100.65M725.67 93.54L726.55 93.13L727.87 91.87L727.87 100.65" fill="none" stroke="#000" stroke-width="1.3" stroke-linecap="round" stroke-linejoin="round"/>
<path d="M743.65 90.12L742.77 90.96L741.88 92.23L740.99 93.91L740.55 96.02L740.55 97.70L740.99 99.81L741.88 101.49L742.77 102.76L743.65 103.60M751.19 94.75L746.31 100.65M746.31 94.75L751.19 94.75M746.31 100.65L751.19 100.65M755.09 96.86L761.48 96.86M771.14 93.07L770.70 92.23L769.37 91.80L768.48 91.80L767.15 92.23L766.27 93.49L765.82 95.60L765.82 97.70L766.27 99.39L767.15 100.23L768.48 100.65L768.93 100.65L770.26 100.23L771.14 99.39L771.59 98.12L771.59 97.70L771.14 96.44L770.26 95.60L768.93 95.17L768.48 95.17L767.15 95.60L766.27 96.44L765.82 97.70M774.25 90.12L775.13 90.96L776.02 92.23L776.91 93.91L777.35 96.02L777.35 97.70L776.91 99.81L776.02 101.49L775.13 102.76L774.25 103.60" fill="none" stroke="#000" stroke-width="1.3" stroke-linecap="round" stroke-linejoin="round"/>
<path d="M693.52 135.73L693.52 144.38M693.52 135.73L699.59 144.38M699.59 135.73L699.59 144.38M702.62 141.08L707.82 141.08L707.82 140.26L707.39 139.44L706.95 139.03L706.09 138.61L704.79 138.61L703.92 139.03L703.05 139.85L702.62 141.08L702.62 141.91L703.05 143.14L703.92 143.96L704.79 144.38L706.09 144.38L706.95 143.96L707.82 143.14M710.42 141.08L715.62 141.08L715.62 140.26L715.18 139.44L714.75 139.03L713.88 138.61L712.58 138.61L711.72 139.03L710.85 139.85L710.42 141.08L710.42 141.91L710.85 143.14L711.72 143.96L712.58 144.38L713.88 144.38L714.75 143.96L715.62 143.14M723.41 135.73L723.41 144.38M723.41 139.85L722.55 139.03L721.68 138.61L720.38 138.61L719.51 139.03L718.65 139.85L718.21 141.08L718.21 141.91L718.65 143.14L719.51 143.96L720.38 144.38L721.68 144.38L722.55 143.96L723.41 143.14M726.44 141.08L731.64 141.08L731.64 140.26L731.21 139.44L730.78 139.03L729.91 138.61L728.61 138.61L727.74 139.03L726.88 139.85L726.44 141.08L726.44 141.91L726.88 143.14L727.74 143.96L728.61 144.38L729.91 144.38L730.78 143.96L731.64 143.14M739.44 135.73L739.44 144.38M739.44 139.85L738.57 139.03L737.71 138.61L736.41 138.61L735.54 139.03L734.67 139.85L734.24 141.08L734.24 141.91L734.67 143.14L735.54 143.96L736.41 144.38L737.71 144.38L738.57 143.96L739.44 143.14M750.27 135.73L750.27 142.73L750.70 143.96L751.57 144.38L752.43 144.38M748.97 138.61L752.00 138.61M756.76 138.61L755.90 139.03L755.03 139.85L754.60 141.08L754.60 141.91L755.03 143.14L755.90 143.96L756.76 144.38L758.06 144.38L758.93 143.96L759.80 143.14L760.23 141.91L760.23 141.08L759.80 139.85L758.93 139.03L758.06 138.61L756.76 138.61M770.19 135.73L770.19 144.38M770.19 135.73L773.66 144.38M777.12 135.73L773.66 144.38M777.12 135.73L777.12 144.38M785.35 138.61L785.35 144.38M785.35 139.85L784.48 139.03L783.62 138.61L782.32 138.61L781.45 139.03L780.59 139.85L780.15 141.08L780.15 141.91L780.59 143.14L781.45 143.96L782.32 144.38L783.62 144.38L784.48 143.96L785.35 143.14M789.25 135.73L789.25 142.73L789.68 143.96L790.55 144.38L791.42 144.38M787.95 138.61L790.98 138.61M798.78 139.85L797.91 139.03L797.05 138.61L795.75 138.61L794.88 139.03L794.01 139.85L793.58 141.08L793.58 141.91L794.01 143.14L794.88 143.96L795.75 144.38L797.05 144.38L797.91 143.96L798.78 143.14M801.81 135.73L801.81 144.38M801.81 140.26L803.11 139.03L803.98 138.61L805.28 138.61L806.14 139.03L806.58 140.26L806.58 144.38" fill="none" stroke="#ff0000" stroke-width="1.25" stroke-linecap="round" stroke-linejoin="round"/>
<path d="M651.65 160.27L651.22 159.46L650.36 158.64L649.51 158.24L647.79 158.24L646.94 158.64L646.08 159.46L645.65 160.27L645.23 161.49L645.23 163.52L645.65 164.74L646.08 165.56L646.94 166.37L647.79 166.78L649.51 166.78L650.36 166.37L651.22 165.56L651.65 164.74M656.35 161.08L655.50 161.49L654.64 162.30L654.21 163.52L654.21 164.34L654.64 165.56L655.50 166.37L656.35 166.78L657.64 166.78L658.49 166.37L659.35 165.56L659.78 164.34L659.78 163.52L659.35 162.30L658.49 161.49L657.64 161.08L656.35 161.08M667.06 162.30L666.63 161.49L665.34 161.08L664.06 161.08L662.78 161.49L662.35 162.30L662.78 163.12L663.63 163.52L665.77 163.93L666.63 164.34L667.06 165.15L667.06 165.56L666.63 166.37L665.34 166.78L664.06 166.78L662.78 166.37L662.35 165.56M670.05 161.08L670.05 166.78M670.05 162.71L671.34 161.49L672.19 161.08L673.48 161.08L674.33 161.49L674.76 162.71L674.76 166.78M674.76 162.71L676.05 161.49L676.90 161.08L678.19 161.08L679.04 161.49L679.47 162.71L679.47 166.78M682.47 158.24L682.89 158.64L683.32 158.24L682.89 157.83L682.47 158.24M682.89 161.08L682.89 166.78M691.03 162.30L690.17 161.49L689.32 161.08L688.03 161.08L687.18 161.49L686.32 162.30L685.89 163.52L685.89 164.34L686.32 165.56L687.18 166.37L688.03 166.78L689.32 166.78L690.17 166.37L691.03 165.56M700.87 158.24L700.87 166.78M706.01 161.08L705.15 161.49L704.30 162.30L703.87 163.52L703.87 164.34L704.30 165.56L705.15 166.37L706.01 166.78L707.29 166.78L708.15 166.37L709.01 165.56L709.43 164.34L709.43 163.52L709.01 162.30L708.15 161.49L707.29 161.08L706.01 161.08M712.43 161.08L712.43 166.78M712.43 162.71L713.72 161.49L714.57 161.08L715.86 161.08L716.71 161.49L717.14 162.71L717.14 166.78M720.14 158.24L720.56 158.64L720.99 158.24L720.56 157.83L720.14 158.24M720.56 161.08L720.56 166.78M728.27 161.08L723.56 166.78M723.56 161.08L728.27 161.08M723.56 166.78L728.27 166.78M730.84 158.24L731.27 158.64L731.69 158.24L731.27 157.83L730.84 158.24M731.27 161.08L731.27 166.78M734.69 161.08L734.69 166.78M734.69 162.71L735.97 161.49L736.83 161.08L738.11 161.08L738.97 161.49L739.40 162.71L739.40 166.78M747.53 161.08L747.53 167.59L747.10 168.81L746.68 169.21L745.82 169.62L744.54 169.62L743.68 169.21M747.53 162.30L746.68 161.49L745.82 161.08L744.54 161.08L743.68 161.49L742.82 162.30L742.40 163.52L742.40 164.34L742.82 165.56L743.68 166.37L744.54 166.78L745.82 166.78L746.68 166.37L747.53 165.56M757.81 158.24L757.81 166.78M757.81 158.24L763.37 158.24M757.81 162.30L761.23 162.30M757.81 166.78L763.37 166.78M765.94 161.08L765.94 166.78M765.94 162.71L767.22 161.49L768.08 161.08L769.36 161.08L770.22 161.49L770.65 162.71L770.65 166.78M770.65 162.71L771.93 161.49L772.79 161.08L774.07 161.08L774.93 161.49L775.36 162.71L775.36 166.78M778.35 158.24L778.78 158.64L779.21 158.24L778.78 157.83L778.35 158.24M778.78 161.08L778.78 166.78M786.49 162.30L786.06 161.49L784.77 161.08L783.49 161.08L782.21 161.49L781.78 162.30L782.21 163.12L783.06 163.52L785.20 163.93L786.06 164.34L786.49 165.15L786.49 165.56L786.06 166.37L784.77 166.78L783.49 166.78L782.21 166.37L781.78 165.56M793.76 162.30L793.34 161.49L792.05 161.08L790.77 161.08L789.48 161.49L789.05 162.30L789.48 163.12L790.34 163.52L792.48 163.93L793.34 164.34L793.76 165.15L793.76 165.56L793.34 166.37L792.05 166.78L790.77 166.78L789.48 166.37L789.05 165.56M796.33 158.24L796.76 158.64L797.19 158.24L796.76 157.83L796.33 158.24M796.76 161.08L796.76 166.78M799.33 161.08L801.90 166.78M804.46 161.08L801.90 166.78M806.61 158.24L807.03 158.64L807.46 158.24L807.03 157.83L806.61 158.24M807.03 161.08L807.03 166.78M810.89 158.24L810.89 165.15L811.31 166.37L812.17 166.78L813.03 166.78M809.60 161.08L812.60 161.08M814.74 161.08L817.31 166.78M819.88 161.08L817.31 166.78L816.45 168.40L815.59 169.21L814.74 169.62L814.31 169.62" fill="none" stroke="#ff0000" stroke-width="1.25" stroke-linecap="round" stroke-linejoin="round"/>
<path d="M684.23 179.04L684.23 187.57M689.36 181.89L688.50 182.29L687.65 183.11L687.22 184.32L687.22 185.14L687.65 186.36L688.50 187.17L689.36 187.57L690.64 187.57L691.50 187.17L692.35 186.36L692.78 185.14L692.78 184.32L692.35 183.11L691.50 182.29L690.64 181.89L689.36 181.89M700.48 181.89L700.48 188.39L700.05 189.61L699.62 190.01L698.77 190.42L697.48 190.42L696.63 190.01M700.48 183.11L699.62 182.29L698.77 181.89L697.48 181.89L696.63 182.29L695.77 183.11L695.34 184.32L695.34 185.14L695.77 186.36L696.63 187.17L697.48 187.57L698.77 187.57L699.62 187.17L700.48 186.36M703.78 187.36L704.31 187.10L705.10 186.35L705.10 191.64M709.88 186.35L709.08 186.60L708.55 187.36L708.29 188.62L708.29 189.37L708.55 190.63L709.08 191.39L709.88 191.64L710.41 191.64L711.20 191.39L711.73 190.63L712.00 189.37L712.00 188.62L711.73 187.36L711.20 186.60L710.41 186.35L709.88 186.35M723.91 179.04L723.06 179.04L722.20 179.45L721.77 180.67L721.77 187.57M720.49 181.89L723.49 181.89M725.56 189.62L728.75 189.62L728.75 189.12L728.48 188.62L728.22 188.36L727.69 188.11L726.89 188.11L726.36 188.36L725.83 188.87L725.56 189.62L725.56 190.13L725.83 190.88L726.36 191.39L726.89 191.64L727.69 191.64L728.22 191.39L728.75 190.88M733.25 188.87L732.99 188.36L732.19 188.11L731.40 188.11L730.60 188.36L730.34 188.87L730.60 189.37L731.13 189.62L732.46 189.87L732.99 190.13L733.25 190.63L733.25 190.88L732.99 191.39L732.19 191.64L731.40 191.64L730.60 191.39L730.34 190.88M738.03 188.87L737.50 188.36L736.97 188.11L736.17 188.11L735.64 188.36L735.11 188.87L734.84 189.62L734.84 190.13L735.11 190.88L735.64 191.39L736.17 191.64L736.97 191.64L737.50 191.39L738.03 190.88M746.46 186.35L746.73 186.60L746.99 186.35L746.73 186.10L746.46 186.35M746.73 188.11L746.73 191.64M749.91 188.11L749.38 188.36L748.85 188.87L748.58 189.62L748.58 190.13L748.85 190.88L749.38 191.39L749.91 191.64L750.70 191.64L751.23 191.39L751.76 190.88L752.03 190.13L752.03 189.62L751.76 188.87L751.23 188.36L750.70 188.11L749.91 188.11M753.88 188.11L753.88 191.64M753.88 189.12L754.68 188.36L755.21 188.11L756.01 188.11L756.54 188.36L756.80 189.12L756.80 191.64M766.95 182.87L773.57 182.87M766.95 184.97L773.57 184.97M784.38 181.07L784.38 180.67L784.81 179.86L785.23 179.45L786.09 179.04L787.80 179.04L788.65 179.45L789.08 179.86L789.51 180.67L789.51 181.48L789.08 182.29L788.23 183.51L783.95 187.57L789.94 187.57M796.78 179.04L792.50 184.73L798.92 184.73M796.78 179.04L796.78 187.57M801.91 186.76L801.48 187.17L801.91 187.57L802.34 187.17L801.91 186.76M810.47 179.04L806.19 179.04L805.76 182.70L806.19 182.29L807.47 181.89L808.76 181.89L810.04 182.29L810.89 183.11L811.32 184.32L811.32 185.14L810.89 186.36L810.04 187.17L808.76 187.57L807.47 187.57L806.19 187.17L805.76 186.76L805.33 185.95M816.45 179.04L815.17 179.45L814.32 180.67L813.89 182.70L813.89 183.92L814.32 185.95L815.17 187.17L816.45 187.57L817.31 187.57L818.59 187.17L819.45 185.95L819.88 183.92L819.88 182.70L819.45 180.67L818.59 179.45L817.31 179.04L816.45 179.04" fill="none" stroke="#ff0000" stroke-width="1.25" stroke-linecap="round" stroke-linejoin="round"/>
<path d="M743.10 179.04L742.24 179.45L741.82 179.86L741.82 180.26L742.24 180.67L743.53 181.07L744.81 181.07M743.53 181.07L742.24 181.48L741.39 181.89L740.96 182.70L740.96 183.51L741.82 184.32L743.10 184.73L743.95 184.73M743.10 184.73L741.39 185.14L740.53 185.54L740.11 186.36L740.11 187.17L740.96 187.98L742.67 188.79L743.10 189.20L743.10 190.01L742.24 190.42L741.39 190.42" fill="none" stroke="#ff0000" stroke-width="1.7" stroke-linecap="round" stroke-linejoin="round"/>
<path d="M524.61 282.34L523.76 282.74L522.90 283.55L522.48 284.36L522.05 285.58L522.05 287.61L522.48 288.82L522.90 289.63L523.76 290.44L524.61 290.85L526.32 290.85L527.17 290.44L528.02 289.63L528.45 288.82L528.88 287.61L528.88 285.58L528.45 284.36L528.02 283.55L527.17 282.74L526.32 282.34L524.61 282.34M525.89 289.23L528.45 291.66M531.86 285.18L531.86 289.23L532.29 290.44L533.14 290.85L534.42 290.85L535.28 290.44L536.56 289.23M536.56 285.18L536.56 290.85M544.66 285.18L544.66 290.85M544.66 286.39L543.81 285.58L542.96 285.18L541.68 285.18L540.82 285.58L539.97 286.39L539.54 287.61L539.54 288.42L539.97 289.63L540.82 290.44L541.68 290.85L542.96 290.85L543.81 290.44L544.66 289.63M552.34 286.39L551.92 285.58L550.64 285.18L549.36 285.18L548.08 285.58L547.65 286.39L548.08 287.20L548.93 287.61L551.06 288.01L551.92 288.42L552.34 289.23L552.34 289.63L551.92 290.44L550.64 290.85L549.36 290.85L548.08 290.44L547.65 289.63M560.02 285.18L560.02 290.85M560.02 286.39L559.17 285.58L558.32 285.18L557.04 285.18L556.18 285.58L555.33 286.39L554.90 287.61L554.90 288.42L555.33 289.63L556.18 290.44L557.04 290.85L558.32 290.85L559.17 290.44L560.02 289.63M563.44 285.18L563.44 290.85M563.44 287.61L563.86 286.39L564.72 285.58L565.57 285.18L566.85 285.18" fill="none" stroke="#585858" stroke-width="1.1" stroke-linecap="round" stroke-linejoin="round"/>
<path d="M518.25 296.65L518.25 305.25M518.25 296.65L522.13 296.65L523.42 297.06L523.85 297.47L524.28 298.29L524.28 299.11L523.85 299.93L523.42 300.34L522.13 300.75L518.25 300.75M521.27 300.75L524.28 305.25M526.87 301.98L532.04 301.98L532.04 301.16L531.61 300.34L531.18 299.93L530.31 299.52L529.02 299.52L528.16 299.93L527.30 300.75L526.87 301.98L526.87 302.79L527.30 304.02L528.16 304.84L529.02 305.25L530.31 305.25L531.18 304.84L532.04 304.02M539.79 296.65L539.79 305.25M539.79 300.75L538.93 299.93L538.07 299.52L536.78 299.52L535.91 299.93L535.05 300.75L534.62 301.98L534.62 302.79L535.05 304.02L535.91 304.84L536.78 305.25L538.07 305.25L538.93 304.84L539.79 304.02M547.55 300.75L547.12 299.93L545.82 299.52L544.53 299.52L543.24 299.93L542.81 300.75L543.24 301.57L544.10 301.98L546.25 302.38L547.12 302.79L547.55 303.61L547.55 304.02L547.12 304.84L545.82 305.25L544.53 305.25L543.24 304.84L542.81 304.02M550.56 296.65L550.56 305.25M550.56 301.16L551.86 299.93L552.72 299.52L554.01 299.52L554.87 299.93L555.30 301.16L555.30 305.25M558.32 296.65L558.75 297.06L559.18 296.65L558.75 296.25L558.32 296.65M558.75 299.52L558.75 305.25M564.78 296.65L563.92 296.65L563.06 297.06L562.63 298.29L562.63 305.25M561.33 299.52L564.35 299.52M567.80 296.65L567.80 303.61L568.23 304.84L569.09 305.25L569.95 305.25M566.50 299.52L569.52 299.52" fill="none" stroke="#585858" stroke-width="1.1" stroke-linecap="round" stroke-linejoin="round"/>
<path d="M505.65 309.95L505.65 318.55M505.65 309.95L508.67 309.95L509.96 310.36L510.82 311.18L511.25 312.00L511.69 313.23L511.69 315.27L511.25 316.50L510.82 317.32L509.96 318.14L508.67 318.55L505.65 318.55M514.27 315.27L519.45 315.27L519.45 314.45L519.01 313.64L518.58 313.23L517.72 312.82L516.43 312.82L515.57 313.23L514.70 314.04L514.27 315.27L514.27 316.09L514.70 317.32L515.57 318.14L516.43 318.55L517.72 318.55L518.58 318.14L519.45 317.32M522.46 312.82L522.46 321.42M522.46 314.04L523.33 313.23L524.19 312.82L525.48 312.82L526.34 313.23L527.21 314.04L527.64 315.27L527.64 316.09L527.21 317.32L526.34 318.14L525.48 318.55L524.19 318.55L523.33 318.14L522.46 317.32M530.22 315.27L535.40 315.27L535.40 314.45L534.97 313.64L534.53 313.23L533.67 312.82L532.38 312.82L531.52 313.23L530.65 314.04L530.22 315.27L530.22 316.09L530.65 317.32L531.52 318.14L532.38 318.55L533.67 318.55L534.53 318.14L535.40 317.32M538.41 312.82L538.41 318.55M538.41 314.45L539.71 313.23L540.57 312.82L541.86 312.82L542.73 313.23L543.16 314.45L543.16 318.55M551.35 309.95L551.35 318.55M551.35 314.04L550.49 313.23L549.62 312.82L548.33 312.82L547.47 313.23L546.61 314.04L546.17 315.27L546.17 316.09L546.61 317.32L547.47 318.14L548.33 318.55L549.62 318.55L550.49 318.14L551.35 317.32M554.37 315.27L559.54 315.27L559.54 314.45L559.11 313.64L558.68 313.23L557.81 312.82L556.52 312.82L555.66 313.23L554.80 314.04L554.37 315.27L554.37 316.09L554.80 317.32L555.66 318.14L556.52 318.55L557.81 318.55L558.68 318.14L559.54 317.32M562.56 312.82L562.56 318.55M562.56 314.45L563.85 313.23L564.71 312.82L566.01 312.82L566.87 313.23L567.30 314.45L567.30 318.55M575.49 314.04L574.63 313.23L573.77 312.82L572.47 312.82L571.61 313.23L570.75 314.04L570.32 315.27L570.32 316.09L570.75 317.32L571.61 318.14L572.47 318.55L573.77 318.55L574.63 318.14L575.49 317.32M578.08 315.27L583.25 315.27L583.25 314.45L582.82 313.64L582.39 313.23L581.53 312.82L580.23 312.82L579.37 313.23L578.51 314.04L578.08 315.27L578.08 316.09L578.51 317.32L579.37 318.14L580.23 318.55L581.53 318.55L582.39 318.14L583.25 317.32" fill="none" stroke="#585858" stroke-width="1.1" stroke-linecap="round" stroke-linejoin="round"/>
<path d="M454.69 87.69L454.69 87.10L455.28 85.92L455.86 85.34L457.04 84.75L459.39 84.75L460.57 85.34L461.16 85.92L461.75 87.10L461.75 88.28L461.16 89.45L459.98 91.22L454.10 97.10L462.34 97.10M474.10 84.75L468.22 97.10M465.86 84.75L474.10 84.75" fill="none" stroke="#000" stroke-width="1.6" stroke-linecap="round" stroke-linejoin="round"/>
<path d="M436.20 189.95L436.20 189.35L436.81 188.14L437.41 187.54L438.62 186.93L441.03 186.93L442.23 187.54L442.84 188.14L443.44 189.35L443.44 190.55L442.84 191.76L441.63 193.57L435.60 199.60L444.04 199.60M455.50 188.74L454.90 187.54L453.09 186.93L451.88 186.93L450.07 187.54L448.87 189.35L448.27 192.36L448.27 195.38L448.87 197.79L450.07 199.00L451.88 199.60L452.49 199.60L454.30 199.00L455.50 197.79L456.11 195.98L456.11 195.38L455.50 193.57L454.30 192.36L452.49 191.76L451.88 191.76L450.07 192.36L448.87 193.57L448.27 195.38M460.93 198.39L460.33 199.00L460.93 199.60L461.53 199.00L460.93 198.39M472.99 186.93L466.96 186.93L466.36 192.36L466.96 191.76L468.77 191.16L470.58 191.16L472.39 191.76L473.60 192.97L474.20 194.78L474.20 195.98L473.60 197.79L472.39 199.00L470.58 199.60L468.77 199.60L466.96 199.00L466.36 198.39L465.76 197.19" fill="none" stroke="#000" stroke-width="1.6" stroke-linecap="round" stroke-linejoin="round"/>
<path d="M454.29 292.69L454.29 292.10L454.88 290.92L455.46 290.34L456.64 289.75L458.99 289.75L460.17 290.34L460.76 290.92L461.35 292.10L461.35 293.28L460.76 294.45L459.58 296.22L453.70 302.10L461.94 302.10M473.11 291.51L472.52 290.34L470.76 289.75L469.58 289.75L467.82 290.34L466.64 292.10L466.05 295.04L466.05 297.98L466.64 300.34L467.82 301.51L469.58 302.10L470.17 302.10L471.94 301.51L473.11 300.34L473.70 298.57L473.70 297.98L473.11 296.22L471.94 295.04L470.17 294.45L469.58 294.45L467.82 295.04L466.64 296.22L466.05 297.98" fill="none" stroke="#000" stroke-width="1.6" stroke-linecap="round" stroke-linejoin="round"/>
<path d="M557.65 389.11L551.80 397.30L560.58 397.30M557.65 389.11L557.65 401.40" fill="none" stroke="#000" stroke-width="1.6" stroke-linecap="round" stroke-linejoin="round"/>
<path d="M637.41 390.87L636.82 389.70L635.07 389.11L633.90 389.11L632.14 389.70L630.98 391.45L630.39 394.38L630.39 397.30L630.98 399.64L632.14 400.81L633.90 401.40L634.49 401.40L636.24 400.81L637.41 399.64L638.00 397.89L638.00 397.30L637.41 395.55L636.24 394.38L634.49 393.79L633.90 393.79L632.14 394.38L630.98 395.55L630.39 397.30" fill="none" stroke="#000" stroke-width="1.6" stroke-linecap="round" stroke-linejoin="round"/>
<path d="M710.73 389.11L708.98 389.70L708.39 390.87L708.39 392.04L708.98 393.21L710.14 393.79L712.49 394.38L714.24 394.96L715.41 396.13L716.00 397.30L716.00 399.06L715.41 400.23L714.82 400.81L713.07 401.40L710.73 401.40L708.98 400.81L708.39 400.23L707.80 399.06L707.80 397.30L708.39 396.13L709.56 394.96L711.31 394.38L713.65 393.79L714.82 393.21L715.41 392.04L715.41 390.87L714.82 389.70L713.07 389.11L710.73 389.11" fill="none" stroke="#000" stroke-width="1.6" stroke-linecap="round" stroke-linejoin="round"/>
<path d="M781.71 391.45L782.88 390.87L784.63 389.11L784.63 401.40M795.16 389.11L793.41 389.70L792.24 391.45L791.65 394.38L791.65 396.13L792.24 399.06L793.41 400.81L795.16 401.40L796.33 401.40L798.09 400.81L799.26 399.06L799.85 396.13L799.85 394.38L799.26 391.45L798.09 389.70L796.33 389.11L795.16 389.11" fill="none" stroke="#000" stroke-width="1.6" stroke-linecap="round" stroke-linejoin="round"/>
<path d="M622.40 417.56L622.40 429.90M622.40 417.56L627.69 417.56L629.45 418.15L630.04 418.74L630.62 419.91L630.62 421.09L630.04 422.26L629.45 422.85L627.69 423.44L622.40 423.44M626.51 423.44L630.62 429.90M634.15 425.20L641.20 425.20L641.20 424.02L640.61 422.85L640.02 422.26L638.85 421.67L637.09 421.67L635.91 422.26L634.74 423.44L634.15 425.20L634.15 426.38L634.74 428.14L635.91 429.31L637.09 429.90L638.85 429.90L640.02 429.31L641.20 428.14M651.78 417.56L651.78 429.90M651.78 423.44L650.60 422.26L649.43 421.67L647.66 421.67L646.49 422.26L645.31 423.44L644.73 425.20L644.73 426.38L645.31 428.14L646.49 429.31L647.66 429.90L649.43 429.90L650.60 429.31L651.78 428.14M662.35 423.44L661.76 422.26L660.00 421.67L658.24 421.67L656.48 422.26L655.89 423.44L656.48 424.61L657.65 425.20L660.59 425.79L661.76 426.38L662.35 427.55L662.35 428.14L661.76 429.31L660.00 429.90L658.24 429.90L656.48 429.31L655.89 428.14M666.46 417.56L666.46 429.90M666.46 424.02L668.23 422.26L669.40 421.67L671.16 421.67L672.34 422.26L672.93 424.02L672.93 429.90M677.04 417.56L677.62 418.15L678.21 417.56L677.62 416.97L677.04 417.56M677.62 421.67L677.62 429.90M685.85 417.56L684.68 417.56L683.50 418.15L682.91 419.91L682.91 429.90M681.15 421.67L685.26 421.67M689.96 417.56L689.96 427.55L690.55 429.31L691.73 429.90L692.90 429.90M688.20 421.67L692.31 421.67" fill="none" stroke="#000" stroke-width="1.6" stroke-linecap="round" stroke-linejoin="round"/>
<path d="M405.06 334.90L417.20 334.90M409.11 327.96L409.69 329.12L410.84 330.28L412.58 330.85L413.73 330.85L415.47 330.28L416.62 329.12L417.20 327.96L417.20 326.23L416.62 325.07L415.47 323.92L413.73 323.34L412.58 323.34L410.84 323.92L409.69 325.07L409.11 326.23L409.11 327.96M409.11 312.94L418.36 312.94L420.09 313.51L420.67 314.09L421.25 315.25L421.25 316.98L420.67 318.14M410.84 312.94L409.69 314.09L409.11 315.25L409.11 316.98L409.69 318.14L410.84 319.29L412.58 319.87L413.73 319.87L415.47 319.29L416.62 318.14L417.20 316.98L417.20 315.25L416.62 314.09L415.47 312.94M417.18 308.47L416.82 307.76L415.74 306.68L423.27 306.68M415.74 300.23L416.10 301.31L417.18 302.02L418.97 302.38L420.04 302.38L421.84 302.02L422.91 301.31L423.27 300.23L423.27 299.52L422.91 298.44L421.84 297.72L420.04 297.37L418.97 297.37L417.18 297.72L416.10 298.44L415.74 299.52L415.74 300.23M415.45 274.17L420.83 274.17L421.90 273.81L422.62 273.09L422.98 272.02L422.98 271.30L422.62 270.22L421.90 269.51L420.83 269.15L415.45 269.15M415.45 267.36L422.98 264.49M415.45 261.62L422.98 264.49M402.75 245.66L403.91 246.81L405.64 247.97L407.95 249.13L410.84 249.70L413.15 249.70L416.04 249.13L418.36 247.97L420.09 246.81L421.25 245.66M412.58 242.19L412.58 235.26L411.42 235.26L410.26 235.83L409.69 236.41L409.11 237.57L409.11 239.30L409.69 240.46L410.84 241.61L412.58 242.19L413.73 242.19L415.47 241.61L416.62 240.46L417.20 239.30L417.20 237.57L416.62 236.41L415.47 235.26M409.11 231.21L417.20 231.21M412.58 231.21L410.84 230.63L409.69 229.48L409.11 228.32L409.11 226.59M409.11 217.34L418.36 217.34L420.09 217.92L420.67 218.49L421.25 219.65L421.25 221.38L420.67 222.54M410.84 217.34L409.69 218.49L409.11 219.65L409.11 221.38L409.69 222.54L410.84 223.70L412.58 224.27L413.73 224.27L415.47 223.70L416.62 222.54L417.20 221.38L417.20 219.65L416.62 218.49L415.47 217.34M410.84 206.93L409.69 207.51L409.11 209.25L409.11 210.98L409.69 212.71L410.84 213.29L412.00 212.71L412.58 211.56L413.15 208.67L413.73 207.51L414.89 206.93L415.47 206.93L416.62 207.51L417.20 209.25L417.20 210.98L416.62 212.71L415.47 213.29M410.84 187.86L409.69 188.44L409.11 190.17L409.11 191.91L409.69 193.64L410.84 194.22L412.00 193.64L412.58 192.48L413.15 189.59L413.73 188.44L414.89 187.86L415.47 187.86L416.62 188.44L417.20 190.17L417.20 191.91L416.62 193.64L415.47 194.22M408.77 184.05L408.77 178.89M405.91 174.66L405.55 173.94L404.47 172.87L412.00 172.87M405.06 158.08L417.20 158.08M405.06 149.99L417.20 149.99M410.84 158.08L410.84 149.99M409.11 139.59L417.20 145.94M409.11 145.94L409.11 139.59M417.20 145.94L417.20 139.59M408.77 135.77L408.77 130.61M405.91 126.39L405.55 125.67L404.47 124.59L412.00 124.59M405.06 109.81L417.20 109.81M405.06 109.81L417.20 105.19M405.06 100.56L417.20 105.19M405.06 100.56L417.20 100.56M409.11 95.94L421.25 95.94M410.84 95.94L409.69 94.78L409.11 93.63L409.11 91.89L409.69 90.74L410.84 89.58L412.58 89.00L413.73 89.00L415.47 89.58L416.62 90.74L417.20 91.89L417.20 93.63L416.62 94.78L415.47 95.94M410.84 78.60L409.69 79.75L409.11 80.91L409.11 82.64L409.69 83.80L410.84 84.96L412.58 85.53L413.73 85.53L415.47 84.96L416.62 83.80L417.20 82.64L417.20 80.91L416.62 79.75L415.47 78.60M408.77 74.79L408.77 69.63M404.47 65.76L404.47 61.81L407.34 63.96L407.34 62.89L407.70 62.17L408.06 61.81L409.13 61.45L409.85 61.45L410.92 61.81L411.64 62.53L412.00 63.61L412.00 64.68L411.64 65.76L411.28 66.11L410.56 66.47M402.75 58.65L403.91 57.49L405.64 56.33L407.95 55.18L410.84 54.60L413.15 54.60L416.04 55.18L418.36 56.33L420.09 57.49L421.25 58.65" fill="none" stroke="#000" stroke-width="1.6" stroke-linecap="round" stroke-linejoin="round"/>
<path d="M412.58 284.50L414.31 284.50L416.04 283.86L416.62 283.23L417.20 281.96L417.20 280.68L416.62 279.41L415.47 278.14L413.73 277.51L412.00 277.51L410.26 278.14L409.69 278.78L409.11 280.05L409.11 281.32L409.69 282.59L410.84 283.86L412.58 284.50L421.25 287.04" fill="none" stroke="#000" stroke-width="1.85" stroke-linecap="round" stroke-linejoin="round"/>
<g class="t">
<text x="111.8" y="43.0" font-size="17.5">Cosmic Ionizing Emissivity</text>
<text x="193.0" y="69.2" font-size="13">1. Planck τ</text>
<text x="193.0" y="89.6" font-size="13">2. z<tspan baseline-shift="sub" font-size="65%">reion</tspan> = [5.9,6.5]</text>
<text x="193.0" y="110.0" font-size="13">3. Q<tspan baseline-shift="super" font-size="65%">7</tspan><tspan baseline-shift="sub" font-size="65%">HII</tspan>=0.66±0.15</text>
<text x="193.0" y="130.4" font-size="13">4. Q<tspan baseline-shift="super" font-size="65%">8</tspan><tspan baseline-shift="sub" font-size="65%">HII</tspan>=0.15±0.20</text>
<text x="193.0" y="150.8" font-size="13">5. Ṅ<tspan baseline-shift="sub" font-size="65%">ion</tspan>(z=4.75) = 10<tspan baseline-shift="super" font-size="65%">50.99±0.45</tspan></text>
<text x="98.0" y="201.1" font-size="12.5">Becker &amp;</text>
<text x="88.4" y="225.4" font-size="12.5">Bolton 2013</text>
<text x="275.4" y="235.3" font-size="12">(C=3)</text>
<text x="344.5" y="283.2" font-size="13">95%</text>
<text x="344.5" y="325.9" font-size="13">68%</text>
<text x="290.3" y="299.3" font-size="13.5" transform="rotate(25 290.3 299.3)">R15</text>
<text x="26.1" y="102.0" font-size="18">51.5</text>
<text x="44.0" y="204.7" font-size="18">51</text>
<text x="26.4" y="307.3" font-size="18">50.5</text>
<text x="137.0" y="401.8" font-size="17.5">4</text>
<text x="209.0" y="401.8" font-size="17.5">6</text>
<text x="281.0" y="401.8" font-size="17.5">8</text>
<text x="348.0" y="401.8" font-size="17.5">10</text>
<text x="199.7" y="425.0" font-size="17.5">Redshift</text>
<text x="10.0" y="306.6" font-size="17.5" transform="rotate(-90 10.0 306.6)">log<tspan baseline-shift="sub" font-size="65%">10</tspan> Ṅ<tspan baseline-shift="sub" font-size="65%">ion</tspan> (z) [s<tspan baseline-shift="super" font-size="65%">−1</tspan> Mpc<tspan baseline-shift="super" font-size="65%">−3</tspan>]</text>
<text x="552.7" y="45.0" font-size="17.5">UV Luminosity Density</text>
<text x="535.6" y="61.5" font-size="13">(−23&lt;M<tspan baseline-shift="sub" font-size="65%">UV,AB</tspan>&lt;−13: Bouwens+2015)</text>
<text x="537.5" y="101.3" font-size="13">log<tspan baseline-shift="sub" font-size="65%">10</tspan> ρ<tspan baseline-shift="sub" font-size="65%">UV</tspan>(z) = 26.37 − 0.11 (z−6)</text>
<text x="692.9" y="145.0" font-size="13">Needed to Match</text>
<text x="644.6" y="167.4" font-size="13">Cosmic Ionizing Emissivity</text>
<text x="683.6" y="188.2" font-size="13">log<tspan baseline-shift="sub" font-size="65%">10</tspan> f<tspan baseline-shift="sub" font-size="65%">esc</tspan>ξ<tspan baseline-shift="sub" font-size="65%">ion</tspan> = 24.50</text>
<text x="521.5" y="291.4" font-size="13">Quasar</text>
<text x="517.7" y="305.8" font-size="13">Redshift</text>
<text x="505.1" y="319.1" font-size="13">Dependence</text>
<text x="453.3" y="97.9" font-size="18">27</text>
<text x="434.8" y="200.4" font-size="18">26.5</text>
<text x="452.9" y="302.9" font-size="18">26</text>
<text x="551.0" y="402.2" font-size="17.5">4</text>
<text x="629.0" y="402.2" font-size="17.5">6</text>
<text x="707.0" y="402.2" font-size="17.5">8</text>
<text x="780.0" y="402.2" font-size="17.5">10</text>
<text x="621.6" y="430.7" font-size="17.5">Redshift</text>
<text x="418.0" y="335.7" font-size="17.5" transform="rotate(-90 418.0 335.7)">log<tspan baseline-shift="sub" font-size="65%">10</tspan> ρ<tspan baseline-shift="sub" font-size="65%">UV</tspan> (ergs s<tspan baseline-shift="super" font-size="65%">−1</tspan> Hz<tspan baseline-shift="super" font-size="65%">−1</tspan> Mpc<tspan baseline-shift="super" font-size="65%">−3</tspan>)</text>
</g>
</svg>
</body></html>
